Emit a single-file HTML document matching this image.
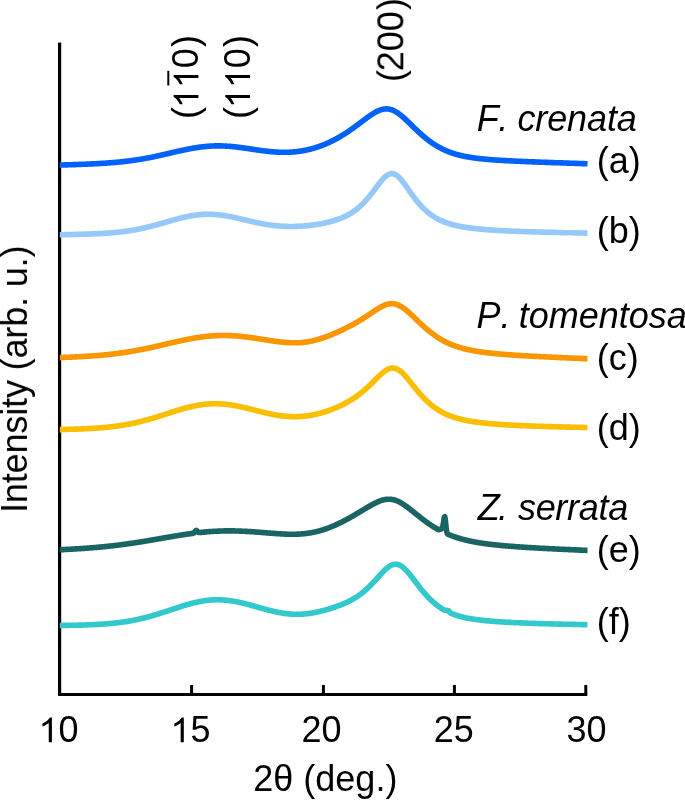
<!DOCTYPE html>
<html><head><meta charset="utf-8"><style>
html,body{margin:0;padding:0;background:#fff;}
svg{display:block;font-family:"Liberation Sans",sans-serif;}
</style></head><body>
<svg width="685" height="800" viewBox="0 0 685 800">
<rect width="685" height="800" fill="#fff"/>
<g fill="#000">
<rect x="58" y="42.6" width="3.2" height="653.4"/>
<rect x="58" y="693" width="529.3" height="3"/>
<rect x="190.1" y="685" width="3" height="9"/>
<rect x="321.9" y="685" width="3" height="9"/>
<rect x="452.9" y="685" width="3" height="9"/>
<rect x="584.3" y="685" width="3" height="9"/>
</g>
<g fill="none" stroke-width="5.6" stroke-linejoin="round" stroke-linecap="butt">
<path d="M59.8,165.1 L60.3,165.1 L60.8,165.1 L61.3,165.0 L61.8,165.0 L62.3,165.0 L62.8,165.0 L63.3,165.0 L63.8,165.0 L64.3,164.9 L64.8,164.9 L65.3,164.9 L65.8,164.9 L66.3,164.9 L66.8,164.9 L67.3,164.9 L67.8,164.8 L68.3,164.8 L68.8,164.8 L69.3,164.8 L69.8,164.8 L70.3,164.7 L70.8,164.7 L71.3,164.7 L71.8,164.7 L72.3,164.7 L72.8,164.7 L73.3,164.6 L73.8,164.6 L74.3,164.6 L74.8,164.6 L75.3,164.6 L75.8,164.6 L76.3,164.5 L76.8,164.5 L77.3,164.5 L77.8,164.5 L78.3,164.5 L78.8,164.4 L79.3,164.4 L79.8,164.4 L80.3,164.4 L80.8,164.4 L81.3,164.4 L81.8,164.3 L82.3,164.3 L82.8,164.3 L83.3,164.3 L83.8,164.3 L84.3,164.2 L84.8,164.2 L85.3,164.2 L85.8,164.2 L86.3,164.2 L86.8,164.1 L87.3,164.1 L87.8,164.1 L88.3,164.1 L88.8,164.0 L89.3,164.0 L89.8,164.0 L90.3,164.0 L90.8,164.0 L91.3,163.9 L91.8,163.9 L92.3,163.9 L92.8,163.9 L93.3,163.8 L93.8,163.8 L94.3,163.8 L94.8,163.8 L95.3,163.7 L95.8,163.7 L96.3,163.7 L96.8,163.7 L97.3,163.6 L97.8,163.6 L98.3,163.6 L98.8,163.5 L99.3,163.5 L99.8,163.5 L100.3,163.5 L100.8,163.4 L101.3,163.4 L101.8,163.4 L102.3,163.3 L102.8,163.3 L103.3,163.3 L103.8,163.3 L104.3,163.2 L104.8,163.2 L105.3,163.2 L105.8,163.1 L106.3,163.1 L106.8,163.1 L107.3,163.0 L107.8,163.0 L108.3,162.9 L108.8,162.9 L109.3,162.9 L109.8,162.8 L110.3,162.8 L110.8,162.8 L111.3,162.7 L111.8,162.7 L112.3,162.6 L112.8,162.6 L113.3,162.6 L113.8,162.5 L114.3,162.5 L114.8,162.4 L115.3,162.4 L115.8,162.4 L116.3,162.3 L116.8,162.3 L117.3,162.2 L117.8,162.2 L118.3,162.1 L118.8,162.1 L119.3,162.0 L119.8,162.0 L120.3,161.9 L120.8,161.9 L121.3,161.8 L121.8,161.8 L122.3,161.7 L122.8,161.7 L123.3,161.6 L123.8,161.6 L124.3,161.5 L124.8,161.4 L125.3,161.4 L125.8,161.3 L126.3,161.3 L126.8,161.2 L127.3,161.1 L127.8,161.1 L128.3,161.0 L128.8,161.0 L129.3,160.9 L129.8,160.8 L130.3,160.8 L130.8,160.7 L131.3,160.6 L131.8,160.6 L132.3,160.5 L132.8,160.4 L133.3,160.4 L133.8,160.3 L134.3,160.2 L134.8,160.1 L135.3,160.1 L135.8,160.0 L136.3,159.9 L136.8,159.8 L137.3,159.8 L137.8,159.7 L138.3,159.6 L138.8,159.5 L139.3,159.5 L139.8,159.4 L140.3,159.3 L140.8,159.2 L141.3,159.1 L141.8,159.0 L142.3,159.0 L142.8,158.9 L143.3,158.8 L143.8,158.7 L144.3,158.6 L144.8,158.5 L145.3,158.4 L145.8,158.3 L146.3,158.2 L146.8,158.1 L147.3,158.0 L147.8,158.0 L148.3,157.9 L148.8,157.8 L149.3,157.7 L149.8,157.6 L150.3,157.5 L150.8,157.4 L151.3,157.3 L151.8,157.2 L152.3,157.1 L152.8,157.0 L153.3,156.9 L153.8,156.8 L154.3,156.7 L154.8,156.5 L155.3,156.4 L155.8,156.3 L156.3,156.2 L156.8,156.1 L157.3,156.0 L157.8,155.9 L158.3,155.8 L158.8,155.7 L159.3,155.6 L159.8,155.5 L160.3,155.4 L160.8,155.2 L161.3,155.1 L161.8,155.0 L162.3,154.9 L162.8,154.8 L163.3,154.7 L163.8,154.6 L164.3,154.4 L164.8,154.3 L165.3,154.2 L165.8,154.1 L166.3,154.0 L166.8,153.9 L167.3,153.8 L167.8,153.6 L168.3,153.5 L168.8,153.4 L169.3,153.3 L169.8,153.2 L170.3,153.1 L170.8,152.9 L171.3,152.8 L171.8,152.7 L172.3,152.6 L172.8,152.5 L173.3,152.4 L173.8,152.2 L174.3,152.1 L174.8,152.0 L175.3,151.9 L175.8,151.8 L176.3,151.7 L176.8,151.6 L177.3,151.4 L177.8,151.3 L178.3,151.2 L178.8,151.1 L179.3,151.0 L179.8,150.9 L180.3,150.8 L180.8,150.6 L181.3,150.5 L181.8,150.4 L182.3,150.3 L182.8,150.2 L183.3,150.1 L183.8,150.0 L184.3,149.9 L184.8,149.8 L185.3,149.7 L185.8,149.6 L186.3,149.5 L186.8,149.4 L187.3,149.3 L187.8,149.2 L188.3,149.1 L188.8,149.0 L189.3,148.9 L189.8,148.8 L190.3,148.7 L190.8,148.6 L191.3,148.5 L191.8,148.4 L192.3,148.3 L192.8,148.2 L193.3,148.1 L193.8,148.1 L194.3,148.0 L194.8,147.9 L195.3,147.8 L195.8,147.7 L196.3,147.7 L196.8,147.6 L197.3,147.5 L197.8,147.4 L198.3,147.4 L198.8,147.3 L199.3,147.2 L199.8,147.1 L200.3,147.1 L200.8,147.0 L201.3,147.0 L201.8,146.9 L202.3,146.8 L202.8,146.8 L203.3,146.7 L203.8,146.7 L204.3,146.6 L204.8,146.6 L205.3,146.5 L205.8,146.5 L206.3,146.4 L206.8,146.4 L207.3,146.3 L207.8,146.3 L208.3,146.3 L208.8,146.2 L209.3,146.2 L209.8,146.1 L210.3,146.1 L210.8,146.1 L211.3,146.1 L211.8,146.0 L212.3,146.0 L212.8,146.0 L213.3,146.0 L213.8,146.0 L214.3,145.9 L214.8,145.9 L215.3,145.9 L215.8,145.9 L216.3,145.9 L216.8,145.9 L217.3,145.9 L217.8,145.9 L218.3,145.9 L218.8,145.9 L219.3,145.9 L219.8,145.9 L220.3,145.9 L220.8,145.9 L221.3,145.9 L221.8,145.9 L222.3,145.9 L222.8,146.0 L223.3,146.0 L223.8,146.0 L224.3,146.0 L224.8,146.0 L225.3,146.1 L225.8,146.1 L226.3,146.1 L226.8,146.2 L227.3,146.2 L227.8,146.2 L228.3,146.3 L228.8,146.3 L229.3,146.3 L229.8,146.4 L230.3,146.4 L230.8,146.4 L231.3,146.5 L231.8,146.5 L232.3,146.6 L232.8,146.6 L233.3,146.7 L233.8,146.7 L234.3,146.8 L234.8,146.8 L235.3,146.9 L235.8,146.9 L236.3,147.0 L236.8,147.1 L237.3,147.1 L237.8,147.2 L238.3,147.2 L238.8,147.3 L239.3,147.4 L239.8,147.4 L240.3,147.5 L240.8,147.6 L241.3,147.6 L241.8,147.7 L242.3,147.8 L242.8,147.8 L243.3,147.9 L243.8,148.0 L244.3,148.0 L244.8,148.1 L245.3,148.2 L245.8,148.3 L246.3,148.3 L246.8,148.4 L247.3,148.5 L247.8,148.5 L248.3,148.6 L248.8,148.7 L249.3,148.8 L249.8,148.8 L250.3,148.9 L250.8,149.0 L251.3,149.1 L251.8,149.1 L252.3,149.2 L252.8,149.3 L253.3,149.4 L253.8,149.4 L254.3,149.5 L254.8,149.6 L255.3,149.7 L255.8,149.7 L256.3,149.8 L256.8,149.9 L257.3,150.0 L257.8,150.0 L258.3,150.1 L258.8,150.2 L259.3,150.2 L259.8,150.3 L260.3,150.4 L260.8,150.4 L261.3,150.5 L261.8,150.6 L262.3,150.7 L262.8,150.7 L263.3,150.8 L263.8,150.8 L264.3,150.9 L264.8,151.0 L265.3,151.0 L265.8,151.1 L266.3,151.1 L266.8,151.2 L267.3,151.3 L267.8,151.3 L268.3,151.4 L268.8,151.4 L269.3,151.5 L269.8,151.5 L270.3,151.6 L270.8,151.6 L271.3,151.7 L271.8,151.7 L272.3,151.8 L272.8,151.8 L273.3,151.8 L273.8,151.9 L274.3,151.9 L274.8,152.0 L275.3,152.0 L275.8,152.0 L276.3,152.1 L276.8,152.1 L277.3,152.1 L277.8,152.1 L278.3,152.2 L278.8,152.2 L279.3,152.2 L279.8,152.2 L280.3,152.2 L280.8,152.3 L281.3,152.3 L281.8,152.3 L282.3,152.3 L282.8,152.3 L283.3,152.3 L283.8,152.3 L284.3,152.3 L284.8,152.3 L285.3,152.3 L285.8,152.3 L286.3,152.3 L286.8,152.3 L287.3,152.3 L287.8,152.2 L288.3,152.2 L288.8,152.2 L289.3,152.2 L289.8,152.2 L290.3,152.1 L290.8,152.1 L291.3,152.1 L291.8,152.0 L292.3,152.0 L292.8,152.0 L293.3,151.9 L293.8,151.9 L294.3,151.9 L294.8,151.8 L295.3,151.8 L295.8,151.7 L296.3,151.7 L296.8,151.6 L297.3,151.5 L297.8,151.5 L298.3,151.4 L298.8,151.3 L299.3,151.3 L299.8,151.2 L300.3,151.1 L300.8,151.1 L301.3,151.0 L301.8,150.9 L302.3,150.8 L302.8,150.7 L303.3,150.6 L303.8,150.5 L304.3,150.5 L304.8,150.4 L305.3,150.3 L305.8,150.2 L306.3,150.1 L306.8,149.9 L307.3,149.8 L307.8,149.7 L308.3,149.6 L308.8,149.5 L309.3,149.4 L309.8,149.3 L310.3,149.1 L310.8,149.0 L311.3,148.9 L311.8,148.7 L312.3,148.6 L312.8,148.5 L313.3,148.3 L313.8,148.2 L314.3,148.0 L314.8,147.9 L315.3,147.7 L315.8,147.6 L316.3,147.4 L316.8,147.3 L317.3,147.1 L317.8,146.9 L318.3,146.8 L318.8,146.6 L319.3,146.4 L319.8,146.2 L320.3,146.1 L320.8,145.9 L321.3,145.7 L321.8,145.5 L322.3,145.3 L322.8,145.1 L323.3,144.9 L323.8,144.7 L324.3,144.5 L324.8,144.3 L325.3,144.1 L325.8,143.9 L326.3,143.7 L326.8,143.5 L327.3,143.2 L327.8,143.0 L328.3,142.8 L328.8,142.6 L329.3,142.3 L329.8,142.1 L330.3,141.9 L330.8,141.6 L331.3,141.4 L331.8,141.1 L332.3,140.9 L332.8,140.6 L333.3,140.4 L333.8,140.1 L334.3,139.9 L334.8,139.6 L335.3,139.4 L335.8,139.1 L336.3,138.8 L336.8,138.5 L337.3,138.3 L337.8,138.0 L338.3,137.7 L338.8,137.4 L339.3,137.1 L339.8,136.8 L340.3,136.5 L340.8,136.2 L341.3,135.9 L341.8,135.6 L342.3,135.3 L342.8,135.0 L343.3,134.7 L343.8,134.4 L344.3,134.1 L344.8,133.8 L345.3,133.4 L345.8,133.1 L346.3,132.8 L346.8,132.5 L347.3,132.1 L347.8,131.8 L348.3,131.5 L348.8,131.1 L349.3,130.8 L349.8,130.4 L350.3,130.1 L350.8,129.7 L351.3,129.4 L351.8,129.0 L352.3,128.7 L352.8,128.3 L353.3,128.0 L353.8,127.6 L354.3,127.2 L354.8,126.9 L355.3,126.5 L355.8,126.1 L356.3,125.8 L356.8,125.4 L357.3,125.0 L357.8,124.7 L358.3,124.3 L358.8,123.9 L359.3,123.5 L359.8,123.2 L360.3,122.8 L360.8,122.4 L361.3,122.0 L361.8,121.6 L362.3,121.3 L362.8,120.9 L363.3,120.5 L363.8,120.1 L364.3,119.8 L364.8,119.4 L365.3,119.0 L365.8,118.6 L366.3,118.3 L366.8,117.9 L367.3,117.5 L367.8,117.2 L368.3,116.8 L368.8,116.5 L369.3,116.1 L369.8,115.8 L370.3,115.4 L370.8,115.1 L371.3,114.7 L371.8,114.4 L372.3,114.1 L372.8,113.8 L373.3,113.5 L373.8,113.2 L374.3,112.9 L374.8,112.6 L375.3,112.3 L375.8,112.0 L376.3,111.7 L376.8,111.5 L377.3,111.2 L377.8,111.0 L378.3,110.8 L378.8,110.6 L379.3,110.4 L379.8,110.2 L380.3,110.0 L380.8,109.8 L381.3,109.7 L381.8,109.5 L382.3,109.4 L382.8,109.3 L383.3,109.2 L383.8,109.1 L384.3,109.0 L384.8,109.0 L385.3,108.9 L385.8,108.9 L386.3,108.9 L386.8,108.9 L387.3,108.9 L387.8,109.0 L388.3,109.0 L388.8,109.1 L389.3,109.2 L389.8,109.3 L390.3,109.4 L390.8,109.5 L391.3,109.7 L391.8,109.9 L392.3,110.0 L392.8,110.2 L393.3,110.5 L393.8,110.7 L394.3,110.9 L394.8,111.2 L395.3,111.5 L395.8,111.8 L396.3,112.1 L396.8,112.4 L397.3,112.7 L397.8,113.0 L398.3,113.4 L398.8,113.7 L399.3,114.1 L399.8,114.5 L400.3,114.9 L400.8,115.3 L401.3,115.7 L401.8,116.1 L402.3,116.5 L402.8,117.0 L403.3,117.4 L403.8,117.8 L404.3,118.3 L404.8,118.7 L405.3,119.2 L405.8,119.7 L406.3,120.1 L406.8,120.6 L407.3,121.1 L407.8,121.6 L408.3,122.0 L408.8,122.5 L409.3,123.0 L409.8,123.5 L410.3,124.0 L410.8,124.5 L411.3,125.0 L411.8,125.5 L412.3,125.9 L412.8,126.4 L413.3,126.9 L413.8,127.4 L414.3,127.9 L414.8,128.4 L415.3,128.9 L415.8,129.3 L416.3,129.8 L416.8,130.3 L417.3,130.8 L417.8,131.2 L418.3,131.7 L418.8,132.2 L419.3,132.6 L419.8,133.1 L420.3,133.5 L420.8,134.0 L421.3,134.4 L421.8,134.9 L422.3,135.3 L422.8,135.7 L423.3,136.2 L423.8,136.6 L424.3,137.0 L424.8,137.4 L425.3,137.8 L425.8,138.2 L426.3,138.6 L426.8,139.0 L427.3,139.4 L427.8,139.8 L428.3,140.2 L428.8,140.6 L429.3,141.0 L429.8,141.3 L430.3,141.7 L430.8,142.1 L431.3,142.4 L431.8,142.8 L432.3,143.1 L432.8,143.4 L433.3,143.8 L433.8,144.1 L434.3,144.4 L434.8,144.7 L435.3,145.1 L435.8,145.4 L436.3,145.7 L436.8,146.0 L437.3,146.3 L437.8,146.6 L438.3,146.9 L438.8,147.1 L439.3,147.4 L439.8,147.7 L440.3,147.9 L440.8,148.2 L441.3,148.5 L441.8,148.7 L442.3,149.0 L442.8,149.2 L443.3,149.5 L443.8,149.7 L444.3,149.9 L444.8,150.2 L445.3,150.4 L445.8,150.6 L446.3,150.8 L446.8,151.0 L447.3,151.2 L447.8,151.4 L448.3,151.6 L448.8,151.8 L449.3,152.0 L449.8,152.2 L450.3,152.4 L450.8,152.6 L451.3,152.7 L451.8,152.9 L452.3,153.1 L452.8,153.3 L453.3,153.4 L453.8,153.6 L454.3,153.7 L454.8,153.9 L455.3,154.0 L455.8,154.2 L456.3,154.3 L456.8,154.5 L457.3,154.6 L457.8,154.7 L458.3,154.9 L458.8,155.0 L459.3,155.1 L459.8,155.3 L460.3,155.4 L460.8,155.5 L461.3,155.6 L461.8,155.7 L462.3,155.8 L462.8,156.0 L463.3,156.1 L463.8,156.2 L464.3,156.3 L464.8,156.4 L465.3,156.5 L465.8,156.6 L466.3,156.7 L466.8,156.8 L467.3,156.9 L467.8,156.9 L468.3,157.0 L468.8,157.1 L469.3,157.2 L469.8,157.3 L470.3,157.4 L470.8,157.4 L471.3,157.5 L471.8,157.6 L472.3,157.7 L472.8,157.7 L473.3,157.8 L473.8,157.9 L474.3,158.0 L474.8,158.0 L475.3,158.1 L475.8,158.2 L476.3,158.2 L476.8,158.3 L477.3,158.3 L477.8,158.4 L478.3,158.5 L478.8,158.5 L479.3,158.6 L479.8,158.6 L480.3,158.7 L480.8,158.7 L481.3,158.8 L481.8,158.8 L482.3,158.9 L482.8,158.9 L483.3,159.0 L483.8,159.0 L484.3,159.1 L484.8,159.1 L485.3,159.2 L485.8,159.2 L486.3,159.3 L486.8,159.3 L487.3,159.4 L487.8,159.4 L488.3,159.5 L488.8,159.5 L489.3,159.5 L489.8,159.6 L490.3,159.6 L490.8,159.7 L491.3,159.7 L491.8,159.7 L492.3,159.8 L492.8,159.8 L493.3,159.8 L493.8,159.9 L494.3,159.9 L494.8,160.0 L495.3,160.0 L495.8,160.0 L496.3,160.1 L496.8,160.1 L497.3,160.1 L497.8,160.2 L498.3,160.2 L498.8,160.2 L499.3,160.3 L499.8,160.3 L500.3,160.3 L500.8,160.3 L501.3,160.4 L501.8,160.4 L502.3,160.4 L502.8,160.5 L503.3,160.5 L503.8,160.5 L504.3,160.6 L504.8,160.6 L505.3,160.6 L505.8,160.6 L506.3,160.7 L506.8,160.7 L507.3,160.7 L507.8,160.7 L508.3,160.8 L508.8,160.8 L509.3,160.8 L509.8,160.8 L510.3,160.9 L510.8,160.9 L511.3,160.9 L511.8,160.9 L512.3,161.0 L512.8,161.0 L513.3,161.0 L513.8,161.0 L514.3,161.1 L514.8,161.1 L515.3,161.1 L515.8,161.1 L516.3,161.2 L516.8,161.2 L517.3,161.2 L517.8,161.2 L518.3,161.3 L518.8,161.3 L519.3,161.3 L519.8,161.3 L520.3,161.3 L520.8,161.4 L521.3,161.4 L521.8,161.4 L522.3,161.4 L522.8,161.5 L523.3,161.5 L523.8,161.5 L524.3,161.5 L524.8,161.5 L525.3,161.6 L525.8,161.6 L526.3,161.6 L526.8,161.6 L527.3,161.6 L527.8,161.7 L528.3,161.7 L528.8,161.7 L529.3,161.7 L529.8,161.7 L530.3,161.8 L530.8,161.8 L531.3,161.8 L531.8,161.8 L532.3,161.8 L532.8,161.9 L533.3,161.9 L533.8,161.9 L534.3,161.9 L534.8,161.9 L535.3,162.0 L535.8,162.0 L536.3,162.0 L536.8,162.0 L537.3,162.0 L537.8,162.1 L538.3,162.1 L538.8,162.1 L539.3,162.1 L539.8,162.1 L540.3,162.2 L540.8,162.2 L541.3,162.2 L541.8,162.2 L542.3,162.2 L542.8,162.2 L543.3,162.3 L543.8,162.3 L544.3,162.3 L544.8,162.3 L545.3,162.3 L545.8,162.4 L546.3,162.4 L546.8,162.4 L547.3,162.4 L547.8,162.4 L548.3,162.4 L548.8,162.5 L549.3,162.5 L549.8,162.5 L550.3,162.5 L550.8,162.5 L551.3,162.6 L551.8,162.6 L552.3,162.6 L552.8,162.6 L553.3,162.6 L553.8,162.6 L554.3,162.7 L554.8,162.7 L555.3,162.7 L555.8,162.7 L556.3,162.7 L556.8,162.7 L557.3,162.8 L557.8,162.8 L558.3,162.8 L558.8,162.8 L559.3,162.8 L559.8,162.8 L560.3,162.9 L560.8,162.9 L561.3,162.9 L561.8,162.9 L562.3,162.9 L562.8,162.9 L563.3,163.0 L563.8,163.0 L564.3,163.0 L564.8,163.0 L565.3,163.0 L565.8,163.0 L566.3,163.1 L566.8,163.1 L567.3,163.1 L567.8,163.1 L568.3,163.1 L568.8,163.1 L569.3,163.2 L569.8,163.2 L570.3,163.2 L570.8,163.2 L571.3,163.2 L571.8,163.2 L572.3,163.3 L572.8,163.3 L573.3,163.3 L573.8,163.3 L574.3,163.3 L574.8,163.3 L575.3,163.4 L575.8,163.4 L576.3,163.4 L576.8,163.4 L577.3,163.4 L577.8,163.4 L578.3,163.5 L578.8,163.5 L579.3,163.5 L579.8,163.5 L580.3,163.5 L580.8,163.5 L581.3,163.6 L581.8,163.6 L582.3,163.6 L582.8,163.6 L583.3,163.6 L583.8,163.6 L584.3,163.7 L584.8,163.7 L585.3,163.7 L585.8,163.7 L586.3,163.7 L586.8,163.7 L587.3,163.8 L587.5,163.8" stroke="#0062fa" />
<path d="M59.8,234.7 L60.3,234.7 L60.8,234.7 L61.3,234.7 L61.8,234.7 L62.3,234.7 L62.8,234.7 L63.3,234.7 L63.8,234.7 L64.3,234.7 L64.8,234.7 L65.3,234.6 L65.8,234.6 L66.3,234.6 L66.8,234.6 L67.3,234.6 L67.8,234.6 L68.3,234.6 L68.8,234.6 L69.3,234.6 L69.8,234.5 L70.3,234.5 L70.8,234.5 L71.3,234.5 L71.8,234.5 L72.3,234.5 L72.8,234.5 L73.3,234.5 L73.8,234.5 L74.3,234.4 L74.8,234.4 L75.3,234.4 L75.8,234.4 L76.3,234.4 L76.8,234.4 L77.3,234.4 L77.8,234.4 L78.3,234.3 L78.8,234.3 L79.3,234.3 L79.8,234.3 L80.3,234.3 L80.8,234.3 L81.3,234.3 L81.8,234.3 L82.3,234.2 L82.8,234.2 L83.3,234.2 L83.8,234.2 L84.3,234.2 L84.8,234.2 L85.3,234.1 L85.8,234.1 L86.3,234.1 L86.8,234.1 L87.3,234.1 L87.8,234.1 L88.3,234.1 L88.8,234.0 L89.3,234.0 L89.8,234.0 L90.3,234.0 L90.8,234.0 L91.3,233.9 L91.8,233.9 L92.3,233.9 L92.8,233.9 L93.3,233.9 L93.8,233.8 L94.3,233.8 L94.8,233.8 L95.3,233.8 L95.8,233.8 L96.3,233.7 L96.8,233.7 L97.3,233.7 L97.8,233.7 L98.3,233.6 L98.8,233.6 L99.3,233.6 L99.8,233.6 L100.3,233.5 L100.8,233.5 L101.3,233.5 L101.8,233.5 L102.3,233.4 L102.8,233.4 L103.3,233.4 L103.8,233.3 L104.3,233.3 L104.8,233.3 L105.3,233.2 L105.8,233.2 L106.3,233.2 L106.8,233.1 L107.3,233.1 L107.8,233.1 L108.3,233.0 L108.8,233.0 L109.3,233.0 L109.8,232.9 L110.3,232.9 L110.8,232.9 L111.3,232.8 L111.8,232.8 L112.3,232.7 L112.8,232.7 L113.3,232.6 L113.8,232.6 L114.3,232.6 L114.8,232.5 L115.3,232.5 L115.8,232.4 L116.3,232.4 L116.8,232.3 L117.3,232.3 L117.8,232.2 L118.3,232.2 L118.8,232.1 L119.3,232.1 L119.8,232.0 L120.3,231.9 L120.8,231.9 L121.3,231.8 L121.8,231.8 L122.3,231.7 L122.8,231.7 L123.3,231.6 L123.8,231.5 L124.3,231.5 L124.8,231.4 L125.3,231.3 L125.8,231.3 L126.3,231.2 L126.8,231.1 L127.3,231.1 L127.8,231.0 L128.3,230.9 L128.8,230.8 L129.3,230.8 L129.8,230.7 L130.3,230.6 L130.8,230.5 L131.3,230.4 L131.8,230.4 L132.3,230.3 L132.8,230.2 L133.3,230.1 L133.8,230.0 L134.3,229.9 L134.8,229.8 L135.3,229.8 L135.8,229.7 L136.3,229.6 L136.8,229.5 L137.3,229.4 L137.8,229.3 L138.3,229.2 L138.8,229.1 L139.3,229.0 L139.8,228.9 L140.3,228.8 L140.8,228.7 L141.3,228.6 L141.8,228.5 L142.3,228.4 L142.8,228.2 L143.3,228.1 L143.8,228.0 L144.3,227.9 L144.8,227.8 L145.3,227.7 L145.8,227.6 L146.3,227.5 L146.8,227.3 L147.3,227.2 L147.8,227.1 L148.3,227.0 L148.8,226.9 L149.3,226.7 L149.8,226.6 L150.3,226.5 L150.8,226.4 L151.3,226.2 L151.8,226.1 L152.3,226.0 L152.8,225.8 L153.3,225.7 L153.8,225.6 L154.3,225.4 L154.8,225.3 L155.3,225.2 L155.8,225.0 L156.3,224.9 L156.8,224.8 L157.3,224.6 L157.8,224.5 L158.3,224.3 L158.8,224.2 L159.3,224.1 L159.8,223.9 L160.3,223.8 L160.8,223.6 L161.3,223.5 L161.8,223.4 L162.3,223.2 L162.8,223.1 L163.3,222.9 L163.8,222.8 L164.3,222.6 L164.8,222.5 L165.3,222.4 L165.8,222.2 L166.3,222.1 L166.8,221.9 L167.3,221.8 L167.8,221.6 L168.3,221.5 L168.8,221.4 L169.3,221.2 L169.8,221.1 L170.3,220.9 L170.8,220.8 L171.3,220.6 L171.8,220.5 L172.3,220.4 L172.8,220.2 L173.3,220.1 L173.8,219.9 L174.3,219.8 L174.8,219.7 L175.3,219.5 L175.8,219.4 L176.3,219.3 L176.8,219.1 L177.3,219.0 L177.8,218.9 L178.3,218.7 L178.8,218.6 L179.3,218.5 L179.8,218.3 L180.3,218.2 L180.8,218.1 L181.3,218.0 L181.8,217.8 L182.3,217.7 L182.8,217.6 L183.3,217.5 L183.8,217.4 L184.3,217.2 L184.8,217.1 L185.3,217.0 L185.8,216.9 L186.3,216.8 L186.8,216.7 L187.3,216.6 L187.8,216.5 L188.3,216.4 L188.8,216.3 L189.3,216.2 L189.8,216.1 L190.3,216.0 L190.8,215.9 L191.3,215.8 L191.8,215.7 L192.3,215.6 L192.8,215.6 L193.3,215.5 L193.8,215.4 L194.3,215.3 L194.8,215.3 L195.3,215.2 L195.8,215.1 L196.3,215.1 L196.8,215.0 L197.3,214.9 L197.8,214.9 L198.3,214.8 L198.8,214.8 L199.3,214.7 L199.8,214.7 L200.3,214.6 L200.8,214.6 L201.3,214.5 L201.8,214.5 L202.3,214.5 L202.8,214.4 L203.3,214.4 L203.8,214.4 L204.3,214.4 L204.8,214.3 L205.3,214.3 L205.8,214.3 L206.3,214.3 L206.8,214.3 L207.3,214.3 L207.8,214.3 L208.3,214.3 L208.8,214.3 L209.3,214.3 L209.8,214.3 L210.3,214.3 L210.8,214.3 L211.3,214.3 L211.8,214.3 L212.3,214.4 L212.8,214.4 L213.3,214.4 L213.8,214.4 L214.3,214.5 L214.8,214.5 L215.3,214.5 L215.8,214.6 L216.3,214.6 L216.8,214.7 L217.3,214.7 L217.8,214.8 L218.3,214.8 L218.8,214.9 L219.3,214.9 L219.8,215.0 L220.3,215.0 L220.8,215.1 L221.3,215.2 L221.8,215.2 L222.3,215.3 L222.8,215.4 L223.3,215.4 L223.8,215.5 L224.3,215.6 L224.8,215.7 L225.3,215.7 L225.8,215.8 L226.3,215.9 L226.8,216.0 L227.3,216.1 L227.8,216.2 L228.3,216.3 L228.8,216.4 L229.3,216.5 L229.8,216.5 L230.3,216.6 L230.8,216.7 L231.3,216.8 L231.8,216.9 L232.3,217.0 L232.8,217.2 L233.3,217.3 L233.8,217.4 L234.3,217.5 L234.8,217.6 L235.3,217.7 L235.8,217.8 L236.3,217.9 L236.8,218.0 L237.3,218.1 L237.8,218.2 L238.3,218.4 L238.8,218.5 L239.3,218.6 L239.8,218.7 L240.3,218.8 L240.8,218.9 L241.3,219.1 L241.8,219.2 L242.3,219.3 L242.8,219.4 L243.3,219.5 L243.8,219.7 L244.3,219.8 L244.8,219.9 L245.3,220.0 L245.8,220.1 L246.3,220.2 L246.8,220.4 L247.3,220.5 L247.8,220.6 L248.3,220.7 L248.8,220.8 L249.3,220.9 L249.8,221.1 L250.3,221.2 L250.8,221.3 L251.3,221.4 L251.8,221.5 L252.3,221.6 L252.8,221.7 L253.3,221.9 L253.8,222.0 L254.3,222.1 L254.8,222.2 L255.3,222.3 L255.8,222.4 L256.3,222.5 L256.8,222.6 L257.3,222.7 L257.8,222.8 L258.3,222.9 L258.8,223.0 L259.3,223.1 L259.8,223.2 L260.3,223.3 L260.8,223.4 L261.3,223.5 L261.8,223.6 L262.3,223.7 L262.8,223.8 L263.3,223.9 L263.8,224.0 L264.3,224.1 L264.8,224.2 L265.3,224.3 L265.8,224.3 L266.3,224.4 L266.8,224.5 L267.3,224.6 L267.8,224.7 L268.3,224.7 L268.8,224.8 L269.3,224.9 L269.8,225.0 L270.3,225.0 L270.8,225.1 L271.3,225.2 L271.8,225.2 L272.3,225.3 L272.8,225.4 L273.3,225.4 L273.8,225.5 L274.3,225.5 L274.8,225.6 L275.3,225.6 L275.8,225.7 L276.3,225.8 L276.8,225.8 L277.3,225.8 L277.8,225.9 L278.3,225.9 L278.8,226.0 L279.3,226.0 L279.8,226.1 L280.3,226.1 L280.8,226.1 L281.3,226.2 L281.8,226.2 L282.3,226.2 L282.8,226.3 L283.3,226.3 L283.8,226.3 L284.3,226.3 L284.8,226.4 L285.3,226.4 L285.8,226.4 L286.3,226.4 L286.8,226.4 L287.3,226.4 L287.8,226.4 L288.3,226.5 L288.8,226.5 L289.3,226.5 L289.8,226.5 L290.3,226.5 L290.8,226.5 L291.3,226.5 L291.8,226.5 L292.3,226.5 L292.8,226.5 L293.3,226.5 L293.8,226.5 L294.3,226.5 L294.8,226.4 L295.3,226.4 L295.8,226.4 L296.3,226.4 L296.8,226.4 L297.3,226.4 L297.8,226.3 L298.3,226.3 L298.8,226.3 L299.3,226.3 L299.8,226.2 L300.3,226.2 L300.8,226.2 L301.3,226.2 L301.8,226.1 L302.3,226.1 L302.8,226.0 L303.3,226.0 L303.8,226.0 L304.3,225.9 L304.8,225.9 L305.3,225.8 L305.8,225.8 L306.3,225.8 L306.8,225.7 L307.3,225.7 L307.8,225.6 L308.3,225.6 L308.8,225.5 L309.3,225.4 L309.8,225.4 L310.3,225.3 L310.8,225.3 L311.3,225.2 L311.8,225.1 L312.3,225.1 L312.8,225.0 L313.3,225.0 L313.8,224.9 L314.3,224.8 L314.8,224.7 L315.3,224.7 L315.8,224.6 L316.3,224.5 L316.8,224.4 L317.3,224.4 L317.8,224.3 L318.3,224.2 L318.8,224.1 L319.3,224.0 L319.8,223.9 L320.3,223.9 L320.8,223.8 L321.3,223.7 L321.8,223.6 L322.3,223.5 L322.8,223.4 L323.3,223.3 L323.8,223.2 L324.3,223.1 L324.8,223.0 L325.3,222.9 L325.8,222.8 L326.3,222.6 L326.8,222.5 L327.3,222.4 L327.8,222.3 L328.3,222.2 L328.8,222.1 L329.3,221.9 L329.8,221.8 L330.3,221.7 L330.8,221.5 L331.3,221.4 L331.8,221.3 L332.3,221.1 L332.8,221.0 L333.3,220.8 L333.8,220.7 L334.3,220.5 L334.8,220.4 L335.3,220.2 L335.8,220.1 L336.3,219.9 L336.8,219.7 L337.3,219.6 L337.8,219.4 L338.3,219.2 L338.8,219.0 L339.3,218.9 L339.8,218.7 L340.3,218.5 L340.8,218.3 L341.3,218.1 L341.8,217.9 L342.3,217.7 L342.8,217.4 L343.3,217.2 L343.8,217.0 L344.3,216.8 L344.8,216.5 L345.3,216.3 L345.8,216.0 L346.3,215.8 L346.8,215.5 L347.3,215.3 L347.8,215.0 L348.3,214.7 L348.8,214.5 L349.3,214.2 L349.8,213.9 L350.3,213.6 L350.8,213.3 L351.3,213.0 L351.8,212.7 L352.3,212.3 L352.8,212.0 L353.3,211.7 L353.8,211.3 L354.3,211.0 L354.8,210.6 L355.3,210.2 L355.8,209.8 L356.3,209.5 L356.8,209.1 L357.3,208.7 L357.8,208.3 L358.3,207.8 L358.8,207.4 L359.3,207.0 L359.8,206.5 L360.3,206.1 L360.8,205.6 L361.3,205.2 L361.8,204.7 L362.3,204.2 L362.8,203.7 L363.3,203.2 L363.8,202.7 L364.3,202.2 L364.8,201.6 L365.3,201.1 L365.8,200.5 L366.3,200.0 L366.8,199.4 L367.3,198.8 L367.8,198.2 L368.3,197.7 L368.8,197.1 L369.3,196.4 L369.8,195.8 L370.3,195.2 L370.8,194.6 L371.3,193.9 L371.8,193.3 L372.3,192.7 L372.8,192.0 L373.3,191.3 L373.8,190.7 L374.3,190.0 L374.8,189.4 L375.3,188.7 L375.8,188.0 L376.3,187.3 L376.8,186.7 L377.3,186.0 L377.8,185.4 L378.3,184.7 L378.8,184.0 L379.3,183.4 L379.8,182.8 L380.3,182.1 L380.8,181.5 L381.3,180.9 L381.8,180.3 L382.3,179.7 L382.8,179.2 L383.3,178.6 L383.8,178.1 L384.3,177.6 L384.8,177.1 L385.3,176.7 L385.8,176.2 L386.3,175.8 L386.8,175.5 L387.3,175.1 L387.8,174.8 L388.3,174.5 L388.8,174.3 L389.3,174.1 L389.8,173.9 L390.3,173.8 L390.8,173.7 L391.3,173.6 L391.8,173.6 L392.3,173.6 L392.8,173.7 L393.3,173.8 L393.8,173.9 L394.3,174.1 L394.8,174.3 L395.3,174.5 L395.8,174.8 L396.3,175.1 L396.8,175.5 L397.3,175.8 L397.8,176.2 L398.3,176.7 L398.8,177.2 L399.3,177.6 L399.8,178.2 L400.3,178.7 L400.8,179.3 L401.3,179.9 L401.8,180.5 L402.3,181.1 L402.8,181.7 L403.3,182.4 L403.8,183.0 L404.3,183.7 L404.8,184.4 L405.3,185.1 L405.8,185.8 L406.3,186.5 L406.8,187.2 L407.3,187.9 L407.8,188.6 L408.3,189.3 L408.8,190.0 L409.3,190.8 L409.8,191.5 L410.3,192.2 L410.8,192.9 L411.3,193.6 L411.8,194.3 L412.3,195.0 L412.8,195.7 L413.3,196.4 L413.8,197.0 L414.3,197.7 L414.8,198.4 L415.3,199.0 L415.8,199.6 L416.3,200.3 L416.8,200.9 L417.3,201.5 L417.8,202.1 L418.3,202.7 L418.8,203.3 L419.3,203.9 L419.8,204.5 L420.3,205.0 L420.8,205.6 L421.3,206.1 L421.8,206.7 L422.3,207.2 L422.8,207.7 L423.3,208.2 L423.8,208.7 L424.3,209.2 L424.8,209.6 L425.3,210.1 L425.8,210.6 L426.3,211.0 L426.8,211.4 L427.3,211.9 L427.8,212.3 L428.3,212.7 L428.8,213.1 L429.3,213.5 L429.8,213.9 L430.3,214.3 L430.8,214.6 L431.3,215.0 L431.8,215.3 L432.3,215.7 L432.8,216.0 L433.3,216.4 L433.8,216.7 L434.3,217.0 L434.8,217.3 L435.3,217.6 L435.8,217.9 L436.3,218.2 L436.8,218.5 L437.3,218.7 L437.8,219.0 L438.3,219.3 L438.8,219.5 L439.3,219.8 L439.8,220.0 L440.3,220.3 L440.8,220.5 L441.3,220.7 L441.8,220.9 L442.3,221.2 L442.8,221.4 L443.3,221.6 L443.8,221.8 L444.3,222.0 L444.8,222.2 L445.3,222.3 L445.8,222.5 L446.3,222.7 L446.8,222.9 L447.3,223.1 L447.8,223.2 L448.3,223.4 L448.8,223.5 L449.3,223.7 L449.8,223.9 L450.3,224.0 L450.8,224.2 L451.3,224.3 L451.8,224.4 L452.3,224.6 L452.8,224.7 L453.3,224.8 L453.8,225.0 L454.3,225.1 L454.8,225.2 L455.3,225.3 L455.8,225.4 L456.3,225.6 L456.8,225.7 L457.3,225.8 L457.8,225.9 L458.3,226.0 L458.8,226.1 L459.3,226.2 L459.8,226.3 L460.3,226.4 L460.8,226.5 L461.3,226.6 L461.8,226.7 L462.3,226.8 L462.8,226.9 L463.3,226.9 L463.8,227.0 L464.3,227.1 L464.8,227.2 L465.3,227.3 L465.8,227.3 L466.3,227.4 L466.8,227.5 L467.3,227.6 L467.8,227.6 L468.3,227.7 L468.8,227.8 L469.3,227.9 L469.8,227.9 L470.3,228.0 L470.8,228.0 L471.3,228.1 L471.8,228.2 L472.3,228.2 L472.8,228.3 L473.3,228.4 L473.8,228.4 L474.3,228.5 L474.8,228.5 L475.3,228.6 L475.8,228.6 L476.3,228.7 L476.8,228.8 L477.3,228.8 L477.8,228.9 L478.3,228.9 L478.8,229.0 L479.3,229.0 L479.8,229.1 L480.3,229.1 L480.8,229.1 L481.3,229.2 L481.8,229.2 L482.3,229.3 L482.8,229.3 L483.3,229.4 L483.8,229.4 L484.3,229.5 L484.8,229.5 L485.3,229.5 L485.8,229.6 L486.3,229.6 L486.8,229.7 L487.3,229.7 L487.8,229.7 L488.3,229.8 L488.8,229.8 L489.3,229.9 L489.8,229.9 L490.3,229.9 L490.8,230.0 L491.3,230.0 L491.8,230.0 L492.3,230.1 L492.8,230.1 L493.3,230.1 L493.8,230.2 L494.3,230.2 L494.8,230.2 L495.3,230.3 L495.8,230.3 L496.3,230.3 L496.8,230.3 L497.3,230.4 L497.8,230.4 L498.3,230.4 L498.8,230.5 L499.3,230.5 L499.8,230.5 L500.3,230.5 L500.8,230.6 L501.3,230.6 L501.8,230.6 L502.3,230.7 L502.8,230.7 L503.3,230.7 L503.8,230.7 L504.3,230.8 L504.8,230.8 L505.3,230.8 L505.8,230.8 L506.3,230.9 L506.8,230.9 L507.3,230.9 L507.8,230.9 L508.3,231.0 L508.8,231.0 L509.3,231.0 L509.8,231.0 L510.3,231.0 L510.8,231.1 L511.3,231.1 L511.8,231.1 L512.3,231.1 L512.8,231.2 L513.3,231.2 L513.8,231.2 L514.3,231.2 L514.8,231.2 L515.3,231.3 L515.8,231.3 L516.3,231.3 L516.8,231.3 L517.3,231.3 L517.8,231.4 L518.3,231.4 L518.8,231.4 L519.3,231.4 L519.8,231.4 L520.3,231.4 L520.8,231.5 L521.3,231.5 L521.8,231.5 L522.3,231.5 L522.8,231.5 L523.3,231.6 L523.8,231.6 L524.3,231.6 L524.8,231.6 L525.3,231.6 L525.8,231.6 L526.3,231.7 L526.8,231.7 L527.3,231.7 L527.8,231.7 L528.3,231.7 L528.8,231.7 L529.3,231.8 L529.8,231.8 L530.3,231.8 L530.8,231.8 L531.3,231.8 L531.8,231.8 L532.3,231.8 L532.8,231.9 L533.3,231.9 L533.8,231.9 L534.3,231.9 L534.8,231.9 L535.3,231.9 L535.8,231.9 L536.3,232.0 L536.8,232.0 L537.3,232.0 L537.8,232.0 L538.3,232.0 L538.8,232.0 L539.3,232.0 L539.8,232.1 L540.3,232.1 L540.8,232.1 L541.3,232.1 L541.8,232.1 L542.3,232.1 L542.8,232.1 L543.3,232.2 L543.8,232.2 L544.3,232.2 L544.8,232.2 L545.3,232.2 L545.8,232.2 L546.3,232.2 L546.8,232.2 L547.3,232.3 L547.8,232.3 L548.3,232.3 L548.8,232.3 L549.3,232.3 L549.8,232.3 L550.3,232.3 L550.8,232.3 L551.3,232.4 L551.8,232.4 L552.3,232.4 L552.8,232.4 L553.3,232.4 L553.8,232.4 L554.3,232.4 L554.8,232.4 L555.3,232.5 L555.8,232.5 L556.3,232.5 L556.8,232.5 L557.3,232.5 L557.8,232.5 L558.3,232.5 L558.8,232.5 L559.3,232.5 L559.8,232.6 L560.3,232.6 L560.8,232.6 L561.3,232.6 L561.8,232.6 L562.3,232.6 L562.8,232.6 L563.3,232.6 L563.8,232.6 L564.3,232.7 L564.8,232.7 L565.3,232.7 L565.8,232.7 L566.3,232.7 L566.8,232.7 L567.3,232.7 L567.8,232.7 L568.3,232.7 L568.8,232.8 L569.3,232.8 L569.8,232.8 L570.3,232.8 L570.8,232.8 L571.3,232.8 L571.8,232.8 L572.3,232.8 L572.8,232.8 L573.3,232.9 L573.8,232.9 L574.3,232.9 L574.8,232.9 L575.3,232.9 L575.8,232.9 L576.3,232.9 L576.8,232.9 L577.3,232.9 L577.8,232.9 L578.3,233.0 L578.8,233.0 L579.3,233.0 L579.8,233.0 L580.3,233.0 L580.8,233.0 L581.3,233.0 L581.8,233.0 L582.3,233.0 L582.8,233.0 L583.3,233.1 L583.8,233.1 L584.3,233.1 L584.8,233.1 L585.3,233.1 L585.8,233.1 L586.3,233.1 L586.8,233.1 L587.3,233.1 L587.5,233.1" stroke="#96c8fa" />
<path d="M59.8,357.6 L60.3,357.6 L60.8,357.5 L61.3,357.5 L61.8,357.5 L62.3,357.5 L62.8,357.5 L63.3,357.4 L63.8,357.4 L64.3,357.4 L64.8,357.4 L65.3,357.4 L65.8,357.3 L66.3,357.3 L66.8,357.3 L67.3,357.3 L67.8,357.3 L68.3,357.2 L68.8,357.2 L69.3,357.2 L69.8,357.2 L70.3,357.1 L70.8,357.1 L71.3,357.1 L71.8,357.1 L72.3,357.1 L72.8,357.0 L73.3,357.0 L73.8,357.0 L74.3,357.0 L74.8,356.9 L75.3,356.9 L75.8,356.9 L76.3,356.9 L76.8,356.8 L77.3,356.8 L77.8,356.8 L78.3,356.8 L78.8,356.7 L79.3,356.7 L79.8,356.7 L80.3,356.7 L80.8,356.6 L81.3,356.6 L81.8,356.6 L82.3,356.6 L82.8,356.5 L83.3,356.5 L83.8,356.5 L84.3,356.4 L84.8,356.4 L85.3,356.4 L85.8,356.3 L86.3,356.3 L86.8,356.3 L87.3,356.3 L87.8,356.2 L88.3,356.2 L88.8,356.2 L89.3,356.1 L89.8,356.1 L90.3,356.1 L90.8,356.0 L91.3,356.0 L91.8,356.0 L92.3,355.9 L92.8,355.9 L93.3,355.8 L93.8,355.8 L94.3,355.8 L94.8,355.7 L95.3,355.7 L95.8,355.7 L96.3,355.6 L96.8,355.6 L97.3,355.5 L97.8,355.5 L98.3,355.5 L98.8,355.4 L99.3,355.4 L99.8,355.3 L100.3,355.3 L100.8,355.2 L101.3,355.2 L101.8,355.2 L102.3,355.1 L102.8,355.1 L103.3,355.0 L103.8,355.0 L104.3,354.9 L104.8,354.9 L105.3,354.8 L105.8,354.8 L106.3,354.7 L106.8,354.7 L107.3,354.6 L107.8,354.6 L108.3,354.5 L108.8,354.5 L109.3,354.4 L109.8,354.4 L110.3,354.3 L110.8,354.2 L111.3,354.2 L111.8,354.1 L112.3,354.1 L112.8,354.0 L113.3,354.0 L113.8,353.9 L114.3,353.8 L114.8,353.8 L115.3,353.7 L115.8,353.7 L116.3,353.6 L116.8,353.5 L117.3,353.5 L117.8,353.4 L118.3,353.3 L118.8,353.3 L119.3,353.2 L119.8,353.1 L120.3,353.1 L120.8,353.0 L121.3,352.9 L121.8,352.9 L122.3,352.8 L122.8,352.7 L123.3,352.6 L123.8,352.6 L124.3,352.5 L124.8,352.4 L125.3,352.4 L125.8,352.3 L126.3,352.2 L126.8,352.1 L127.3,352.0 L127.8,352.0 L128.3,351.9 L128.8,351.8 L129.3,351.7 L129.8,351.6 L130.3,351.6 L130.8,351.5 L131.3,351.4 L131.8,351.3 L132.3,351.2 L132.8,351.1 L133.3,351.0 L133.8,351.0 L134.3,350.9 L134.8,350.8 L135.3,350.7 L135.8,350.6 L136.3,350.5 L136.8,350.4 L137.3,350.3 L137.8,350.2 L138.3,350.1 L138.8,350.0 L139.3,350.0 L139.8,349.9 L140.3,349.8 L140.8,349.7 L141.3,349.6 L141.8,349.5 L142.3,349.4 L142.8,349.3 L143.3,349.2 L143.8,349.1 L144.3,349.0 L144.8,348.9 L145.3,348.8 L145.8,348.7 L146.3,348.6 L146.8,348.4 L147.3,348.3 L147.8,348.2 L148.3,348.1 L148.8,348.0 L149.3,347.9 L149.8,347.8 L150.3,347.7 L150.8,347.6 L151.3,347.5 L151.8,347.4 L152.3,347.3 L152.8,347.2 L153.3,347.0 L153.8,346.9 L154.3,346.8 L154.8,346.7 L155.3,346.6 L155.8,346.5 L156.3,346.4 L156.8,346.3 L157.3,346.1 L157.8,346.0 L158.3,345.9 L158.8,345.8 L159.3,345.7 L159.8,345.6 L160.3,345.5 L160.8,345.3 L161.3,345.2 L161.8,345.1 L162.3,345.0 L162.8,344.9 L163.3,344.8 L163.8,344.6 L164.3,344.5 L164.8,344.4 L165.3,344.3 L165.8,344.2 L166.3,344.1 L166.8,343.9 L167.3,343.8 L167.8,343.7 L168.3,343.6 L168.8,343.5 L169.3,343.4 L169.8,343.2 L170.3,343.1 L170.8,343.0 L171.3,342.9 L171.8,342.8 L172.3,342.7 L172.8,342.5 L173.3,342.4 L173.8,342.3 L174.3,342.2 L174.8,342.1 L175.3,342.0 L175.8,341.9 L176.3,341.7 L176.8,341.6 L177.3,341.5 L177.8,341.4 L178.3,341.3 L178.8,341.2 L179.3,341.1 L179.8,341.0 L180.3,340.9 L180.8,340.7 L181.3,340.6 L181.8,340.5 L182.3,340.4 L182.8,340.3 L183.3,340.2 L183.8,340.1 L184.3,340.0 L184.8,339.9 L185.3,339.8 L185.8,339.7 L186.3,339.6 L186.8,339.5 L187.3,339.4 L187.8,339.3 L188.3,339.2 L188.8,339.1 L189.3,339.0 L189.8,338.9 L190.3,338.8 L190.8,338.7 L191.3,338.6 L191.8,338.5 L192.3,338.4 L192.8,338.4 L193.3,338.3 L193.8,338.2 L194.3,338.1 L194.8,338.0 L195.3,337.9 L195.8,337.8 L196.3,337.8 L196.8,337.7 L197.3,337.6 L197.8,337.5 L198.3,337.4 L198.8,337.4 L199.3,337.3 L199.8,337.2 L200.3,337.2 L200.8,337.1 L201.3,337.0 L201.8,336.9 L202.3,336.9 L202.8,336.8 L203.3,336.8 L203.8,336.7 L204.3,336.6 L204.8,336.6 L205.3,336.5 L205.8,336.5 L206.3,336.4 L206.8,336.3 L207.3,336.3 L207.8,336.2 L208.3,336.2 L208.8,336.1 L209.3,336.1 L209.8,336.1 L210.3,336.0 L210.8,336.0 L211.3,335.9 L211.8,335.9 L212.3,335.9 L212.8,335.8 L213.3,335.8 L213.8,335.8 L214.3,335.7 L214.8,335.7 L215.3,335.7 L215.8,335.6 L216.3,335.6 L216.8,335.6 L217.3,335.6 L217.8,335.6 L218.3,335.5 L218.8,335.5 L219.3,335.5 L219.8,335.5 L220.3,335.5 L220.8,335.5 L221.3,335.5 L221.8,335.5 L222.3,335.5 L222.8,335.5 L223.3,335.5 L223.8,335.5 L224.3,335.5 L224.8,335.5 L225.3,335.5 L225.8,335.5 L226.3,335.5 L226.8,335.5 L227.3,335.5 L227.8,335.5 L228.3,335.5 L228.8,335.6 L229.3,335.6 L229.8,335.6 L230.3,335.6 L230.8,335.6 L231.3,335.7 L231.8,335.7 L232.3,335.7 L232.8,335.7 L233.3,335.8 L233.8,335.8 L234.3,335.8 L234.8,335.9 L235.3,335.9 L235.8,335.9 L236.3,336.0 L236.8,336.0 L237.3,336.0 L237.8,336.1 L238.3,336.1 L238.8,336.2 L239.3,336.2 L239.8,336.3 L240.3,336.3 L240.8,336.4 L241.3,336.4 L241.8,336.5 L242.3,336.5 L242.8,336.6 L243.3,336.6 L243.8,336.7 L244.3,336.7 L244.8,336.8 L245.3,336.9 L245.8,336.9 L246.3,337.0 L246.8,337.0 L247.3,337.1 L247.8,337.2 L248.3,337.2 L248.8,337.3 L249.3,337.4 L249.8,337.4 L250.3,337.5 L250.8,337.6 L251.3,337.6 L251.8,337.7 L252.3,337.8 L252.8,337.9 L253.3,337.9 L253.8,338.0 L254.3,338.1 L254.8,338.1 L255.3,338.2 L255.8,338.3 L256.3,338.4 L256.8,338.4 L257.3,338.5 L257.8,338.6 L258.3,338.7 L258.8,338.8 L259.3,338.8 L259.8,338.9 L260.3,339.0 L260.8,339.1 L261.3,339.2 L261.8,339.2 L262.3,339.3 L262.8,339.4 L263.3,339.5 L263.8,339.5 L264.3,339.6 L264.8,339.7 L265.3,339.8 L265.8,339.9 L266.3,339.9 L266.8,340.0 L267.3,340.1 L267.8,340.2 L268.3,340.3 L268.8,340.3 L269.3,340.4 L269.8,340.5 L270.3,340.6 L270.8,340.6 L271.3,340.7 L271.8,340.8 L272.3,340.9 L272.8,340.9 L273.3,341.0 L273.8,341.1 L274.3,341.2 L274.8,341.2 L275.3,341.3 L275.8,341.4 L276.3,341.4 L276.8,341.5 L277.3,341.6 L277.8,341.6 L278.3,341.7 L278.8,341.7 L279.3,341.8 L279.8,341.9 L280.3,341.9 L280.8,342.0 L281.3,342.0 L281.8,342.1 L282.3,342.1 L282.8,342.2 L283.3,342.2 L283.8,342.3 L284.3,342.3 L284.8,342.4 L285.3,342.4 L285.8,342.5 L286.3,342.5 L286.8,342.5 L287.3,342.6 L287.8,342.6 L288.3,342.6 L288.8,342.7 L289.3,342.7 L289.8,342.7 L290.3,342.7 L290.8,342.8 L291.3,342.8 L291.8,342.8 L292.3,342.8 L292.8,342.8 L293.3,342.8 L293.8,342.8 L294.3,342.8 L294.8,342.8 L295.3,342.8 L295.8,342.8 L296.3,342.8 L296.8,342.8 L297.3,342.8 L297.8,342.8 L298.3,342.7 L298.8,342.7 L299.3,342.7 L299.8,342.7 L300.3,342.6 L300.8,342.6 L301.3,342.6 L301.8,342.5 L302.3,342.5 L302.8,342.4 L303.3,342.4 L303.8,342.3 L304.3,342.3 L304.8,342.2 L305.3,342.1 L305.8,342.1 L306.3,342.0 L306.8,341.9 L307.3,341.9 L307.8,341.8 L308.3,341.7 L308.8,341.6 L309.3,341.5 L309.8,341.4 L310.3,341.3 L310.8,341.2 L311.3,341.1 L311.8,341.0 L312.3,340.9 L312.8,340.8 L313.3,340.7 L313.8,340.6 L314.3,340.5 L314.8,340.3 L315.3,340.2 L315.8,340.1 L316.3,340.0 L316.8,339.8 L317.3,339.7 L317.8,339.5 L318.3,339.4 L318.8,339.3 L319.3,339.1 L319.8,338.9 L320.3,338.8 L320.8,338.6 L321.3,338.5 L321.8,338.3 L322.3,338.1 L322.8,338.0 L323.3,337.8 L323.8,337.6 L324.3,337.5 L324.8,337.3 L325.3,337.1 L325.8,336.9 L326.3,336.7 L326.8,336.5 L327.3,336.4 L327.8,336.2 L328.3,336.0 L328.8,335.8 L329.3,335.6 L329.8,335.4 L330.3,335.2 L330.8,335.0 L331.3,334.8 L331.8,334.6 L332.3,334.4 L332.8,334.1 L333.3,333.9 L333.8,333.7 L334.3,333.5 L334.8,333.3 L335.3,333.1 L335.8,332.9 L336.3,332.6 L336.8,332.4 L337.3,332.2 L337.8,332.0 L338.3,331.7 L338.8,331.5 L339.3,331.3 L339.8,331.0 L340.3,330.8 L340.8,330.6 L341.3,330.3 L341.8,330.1 L342.3,329.9 L342.8,329.6 L343.3,329.4 L343.8,329.1 L344.3,328.9 L344.8,328.7 L345.3,328.4 L345.8,328.2 L346.3,327.9 L346.8,327.7 L347.3,327.4 L347.8,327.2 L348.3,326.9 L348.8,326.6 L349.3,326.4 L349.8,326.1 L350.3,325.9 L350.8,325.6 L351.3,325.3 L351.8,325.1 L352.3,324.8 L352.8,324.5 L353.3,324.3 L353.8,324.0 L354.3,323.7 L354.8,323.4 L355.3,323.1 L355.8,322.9 L356.3,322.6 L356.8,322.3 L357.3,322.0 L357.8,321.7 L358.3,321.4 L358.8,321.1 L359.3,320.8 L359.8,320.5 L360.3,320.2 L360.8,319.9 L361.3,319.6 L361.8,319.3 L362.3,319.0 L362.8,318.7 L363.3,318.4 L363.8,318.0 L364.3,317.7 L364.8,317.4 L365.3,317.1 L365.8,316.7 L366.3,316.4 L366.8,316.1 L367.3,315.8 L367.8,315.4 L368.3,315.1 L368.8,314.8 L369.3,314.4 L369.8,314.1 L370.3,313.8 L370.8,313.4 L371.3,313.1 L371.8,312.7 L372.3,312.4 L372.8,312.1 L373.3,311.7 L373.8,311.4 L374.3,311.1 L374.8,310.7 L375.3,310.4 L375.8,310.1 L376.3,309.8 L376.8,309.4 L377.3,309.1 L377.8,308.8 L378.3,308.5 L378.8,308.2 L379.3,307.9 L379.8,307.6 L380.3,307.3 L380.8,307.0 L381.3,306.8 L381.8,306.5 L382.3,306.3 L382.8,306.0 L383.3,305.8 L383.8,305.5 L384.3,305.3 L384.8,305.1 L385.3,304.9 L385.8,304.7 L386.3,304.6 L386.8,304.4 L387.3,304.3 L387.8,304.1 L388.3,304.0 L388.8,303.9 L389.3,303.8 L389.8,303.8 L390.3,303.7 L390.8,303.7 L391.3,303.6 L391.8,303.6 L392.3,303.6 L392.8,303.7 L393.3,303.7 L393.8,303.8 L394.3,303.8 L394.8,303.9 L395.3,304.0 L395.8,304.2 L396.3,304.3 L396.8,304.5 L397.3,304.7 L397.8,304.8 L398.3,305.0 L398.8,305.3 L399.3,305.5 L399.8,305.8 L400.3,306.0 L400.8,306.3 L401.3,306.6 L401.8,306.9 L402.3,307.2 L402.8,307.6 L403.3,307.9 L403.8,308.3 L404.3,308.7 L404.8,309.0 L405.3,309.4 L405.8,309.8 L406.3,310.2 L406.8,310.7 L407.3,311.1 L407.8,311.5 L408.3,311.9 L408.8,312.4 L409.3,312.8 L409.8,313.3 L410.3,313.8 L410.8,314.2 L411.3,314.7 L411.8,315.2 L412.3,315.6 L412.8,316.1 L413.3,316.6 L413.8,317.1 L414.3,317.6 L414.8,318.1 L415.3,318.5 L415.8,319.0 L416.3,319.5 L416.8,320.0 L417.3,320.5 L417.8,321.0 L418.3,321.4 L418.8,321.9 L419.3,322.4 L419.8,322.9 L420.3,323.3 L420.8,323.8 L421.3,324.3 L421.8,324.8 L422.3,325.2 L422.8,325.7 L423.3,326.1 L423.8,326.6 L424.3,327.0 L424.8,327.5 L425.3,327.9 L425.8,328.4 L426.3,328.8 L426.8,329.2 L427.3,329.6 L427.8,330.1 L428.3,330.5 L428.8,330.9 L429.3,331.3 L429.8,331.7 L430.3,332.1 L430.8,332.5 L431.3,332.9 L431.8,333.3 L432.3,333.6 L432.8,334.0 L433.3,334.4 L433.8,334.7 L434.3,335.1 L434.8,335.4 L435.3,335.8 L435.8,336.1 L436.3,336.5 L436.8,336.8 L437.3,337.1 L437.8,337.5 L438.3,337.8 L438.8,338.1 L439.3,338.4 L439.8,338.7 L440.3,339.0 L440.8,339.3 L441.3,339.6 L441.8,339.9 L442.3,340.2 L442.8,340.5 L443.3,340.7 L443.8,341.0 L444.3,341.3 L444.8,341.5 L445.3,341.8 L445.8,342.0 L446.3,342.3 L446.8,342.5 L447.3,342.8 L447.8,343.0 L448.3,343.2 L448.8,343.5 L449.3,343.7 L449.8,343.9 L450.3,344.1 L450.8,344.3 L451.3,344.5 L451.8,344.7 L452.3,344.9 L452.8,345.1 L453.3,345.3 L453.8,345.5 L454.3,345.7 L454.8,345.9 L455.3,346.1 L455.8,346.2 L456.3,346.4 L456.8,346.6 L457.3,346.7 L457.8,346.9 L458.3,347.1 L458.8,347.2 L459.3,347.4 L459.8,347.5 L460.3,347.7 L460.8,347.8 L461.3,348.0 L461.8,348.1 L462.3,348.2 L462.8,348.4 L463.3,348.5 L463.8,348.6 L464.3,348.8 L464.8,348.9 L465.3,349.0 L465.8,349.1 L466.3,349.3 L466.8,349.4 L467.3,349.5 L467.8,349.6 L468.3,349.7 L468.8,349.8 L469.3,349.9 L469.8,350.0 L470.3,350.1 L470.8,350.2 L471.3,350.3 L471.8,350.4 L472.3,350.5 L472.8,350.6 L473.3,350.7 L473.8,350.8 L474.3,350.9 L474.8,351.0 L475.3,351.1 L475.8,351.1 L476.3,351.2 L476.8,351.3 L477.3,351.4 L477.8,351.5 L478.3,351.5 L478.8,351.6 L479.3,351.7 L479.8,351.8 L480.3,351.8 L480.8,351.9 L481.3,352.0 L481.8,352.1 L482.3,352.1 L482.8,352.2 L483.3,352.3 L483.8,352.3 L484.3,352.4 L484.8,352.5 L485.3,352.5 L485.8,352.6 L486.3,352.6 L486.8,352.7 L487.3,352.8 L487.8,352.8 L488.3,352.9 L488.8,352.9 L489.3,353.0 L489.8,353.0 L490.3,353.1 L490.8,353.1 L491.3,353.2 L491.8,353.3 L492.3,353.3 L492.8,353.4 L493.3,353.4 L493.8,353.5 L494.3,353.5 L494.8,353.6 L495.3,353.6 L495.8,353.7 L496.3,353.7 L496.8,353.7 L497.3,353.8 L497.8,353.8 L498.3,353.9 L498.8,353.9 L499.3,354.0 L499.8,354.0 L500.3,354.1 L500.8,354.1 L501.3,354.1 L501.8,354.2 L502.3,354.2 L502.8,354.3 L503.3,354.3 L503.8,354.3 L504.3,354.4 L504.8,354.4 L505.3,354.5 L505.8,354.5 L506.3,354.5 L506.8,354.6 L507.3,354.6 L507.8,354.7 L508.3,354.7 L508.8,354.7 L509.3,354.8 L509.8,354.8 L510.3,354.8 L510.8,354.9 L511.3,354.9 L511.8,354.9 L512.3,355.0 L512.8,355.0 L513.3,355.1 L513.8,355.1 L514.3,355.1 L514.8,355.2 L515.3,355.2 L515.8,355.2 L516.3,355.3 L516.8,355.3 L517.3,355.3 L517.8,355.4 L518.3,355.4 L518.8,355.4 L519.3,355.4 L519.8,355.5 L520.3,355.5 L520.8,355.5 L521.3,355.6 L521.8,355.6 L522.3,355.6 L522.8,355.7 L523.3,355.7 L523.8,355.7 L524.3,355.8 L524.8,355.8 L525.3,355.8 L525.8,355.8 L526.3,355.9 L526.8,355.9 L527.3,355.9 L527.8,356.0 L528.3,356.0 L528.8,356.0 L529.3,356.0 L529.8,356.1 L530.3,356.1 L530.8,356.1 L531.3,356.2 L531.8,356.2 L532.3,356.2 L532.8,356.2 L533.3,356.3 L533.8,356.3 L534.3,356.3 L534.8,356.3 L535.3,356.4 L535.8,356.4 L536.3,356.4 L536.8,356.4 L537.3,356.5 L537.8,356.5 L538.3,356.5 L538.8,356.6 L539.3,356.6 L539.8,356.6 L540.3,356.6 L540.8,356.7 L541.3,356.7 L541.8,356.7 L542.3,356.7 L542.8,356.8 L543.3,356.8 L543.8,356.8 L544.3,356.8 L544.8,356.9 L545.3,356.9 L545.8,356.9 L546.3,356.9 L546.8,357.0 L547.3,357.0 L547.8,357.0 L548.3,357.0 L548.8,357.0 L549.3,357.1 L549.8,357.1 L550.3,357.1 L550.8,357.1 L551.3,357.2 L551.8,357.2 L552.3,357.2 L552.8,357.2 L553.3,357.3 L553.8,357.3 L554.3,357.3 L554.8,357.3 L555.3,357.4 L555.8,357.4 L556.3,357.4 L556.8,357.4 L557.3,357.4 L557.8,357.5 L558.3,357.5 L558.8,357.5 L559.3,357.5 L559.8,357.6 L560.3,357.6 L560.8,357.6 L561.3,357.6 L561.8,357.6 L562.3,357.7 L562.8,357.7 L563.3,357.7 L563.8,357.7 L564.3,357.8 L564.8,357.8 L565.3,357.8 L565.8,357.8 L566.3,357.8 L566.8,357.9 L567.3,357.9 L567.8,357.9 L568.3,357.9 L568.8,358.0 L569.3,358.0 L569.8,358.0 L570.3,358.0 L570.8,358.0 L571.3,358.1 L571.8,358.1 L572.3,358.1 L572.8,358.1 L573.3,358.2 L573.8,358.2 L574.3,358.2 L574.8,358.2 L575.3,358.2 L575.8,358.3 L576.3,358.3 L576.8,358.3 L577.3,358.3 L577.8,358.3 L578.3,358.4 L578.8,358.4 L579.3,358.4 L579.8,358.4 L580.3,358.4 L580.8,358.5 L581.3,358.5 L581.8,358.5 L582.3,358.5 L582.8,358.6 L583.3,358.6 L583.8,358.6 L584.3,358.6 L584.8,358.6 L585.3,358.7 L585.8,358.7 L586.3,358.7 L586.8,358.7 L587.3,358.7 L587.5,358.7" stroke="#fa9600" />
<path d="M59.8,429.6 L60.3,429.6 L60.8,429.6 L61.3,429.5 L61.8,429.5 L62.3,429.5 L62.8,429.5 L63.3,429.5 L63.8,429.5 L64.3,429.5 L64.8,429.5 L65.3,429.4 L65.8,429.4 L66.3,429.4 L66.8,429.4 L67.3,429.4 L67.8,429.4 L68.3,429.4 L68.8,429.3 L69.3,429.3 L69.8,429.3 L70.3,429.3 L70.8,429.3 L71.3,429.3 L71.8,429.3 L72.3,429.2 L72.8,429.2 L73.3,429.2 L73.8,429.2 L74.3,429.2 L74.8,429.2 L75.3,429.1 L75.8,429.1 L76.3,429.1 L76.8,429.1 L77.3,429.1 L77.8,429.1 L78.3,429.0 L78.8,429.0 L79.3,429.0 L79.8,429.0 L80.3,429.0 L80.8,428.9 L81.3,428.9 L81.8,428.9 L82.3,428.9 L82.8,428.9 L83.3,428.8 L83.8,428.8 L84.3,428.8 L84.8,428.8 L85.3,428.7 L85.8,428.7 L86.3,428.7 L86.8,428.7 L87.3,428.7 L87.8,428.6 L88.3,428.6 L88.8,428.6 L89.3,428.6 L89.8,428.5 L90.3,428.5 L90.8,428.5 L91.3,428.4 L91.8,428.4 L92.3,428.4 L92.8,428.4 L93.3,428.3 L93.8,428.3 L94.3,428.3 L94.8,428.2 L95.3,428.2 L95.8,428.2 L96.3,428.1 L96.8,428.1 L97.3,428.1 L97.8,428.0 L98.3,428.0 L98.8,427.9 L99.3,427.9 L99.8,427.9 L100.3,427.8 L100.8,427.8 L101.3,427.8 L101.8,427.7 L102.3,427.7 L102.8,427.6 L103.3,427.6 L103.8,427.5 L104.3,427.5 L104.8,427.5 L105.3,427.4 L105.8,427.4 L106.3,427.3 L106.8,427.3 L107.3,427.2 L107.8,427.2 L108.3,427.1 L108.8,427.1 L109.3,427.0 L109.8,427.0 L110.3,426.9 L110.8,426.8 L111.3,426.8 L111.8,426.7 L112.3,426.7 L112.8,426.6 L113.3,426.5 L113.8,426.5 L114.3,426.4 L114.8,426.4 L115.3,426.3 L115.8,426.2 L116.3,426.2 L116.8,426.1 L117.3,426.0 L117.8,426.0 L118.3,425.9 L118.8,425.8 L119.3,425.7 L119.8,425.7 L120.3,425.6 L120.8,425.5 L121.3,425.4 L121.8,425.4 L122.3,425.3 L122.8,425.2 L123.3,425.1 L123.8,425.0 L124.3,425.0 L124.8,424.9 L125.3,424.8 L125.8,424.7 L126.3,424.6 L126.8,424.5 L127.3,424.4 L127.8,424.3 L128.3,424.2 L128.8,424.1 L129.3,424.1 L129.8,424.0 L130.3,423.9 L130.8,423.8 L131.3,423.7 L131.8,423.6 L132.3,423.5 L132.8,423.3 L133.3,423.2 L133.8,423.1 L134.3,423.0 L134.8,422.9 L135.3,422.8 L135.8,422.7 L136.3,422.6 L136.8,422.5 L137.3,422.4 L137.8,422.2 L138.3,422.1 L138.8,422.0 L139.3,421.9 L139.8,421.8 L140.3,421.6 L140.8,421.5 L141.3,421.4 L141.8,421.3 L142.3,421.1 L142.8,421.0 L143.3,420.9 L143.8,420.7 L144.3,420.6 L144.8,420.5 L145.3,420.3 L145.8,420.2 L146.3,420.1 L146.8,419.9 L147.3,419.8 L147.8,419.7 L148.3,419.5 L148.8,419.4 L149.3,419.2 L149.8,419.1 L150.3,419.0 L150.8,418.8 L151.3,418.7 L151.8,418.5 L152.3,418.4 L152.8,418.2 L153.3,418.1 L153.8,417.9 L154.3,417.8 L154.8,417.6 L155.3,417.5 L155.8,417.3 L156.3,417.2 L156.8,417.0 L157.3,416.8 L157.8,416.7 L158.3,416.5 L158.8,416.4 L159.3,416.2 L159.8,416.1 L160.3,415.9 L160.8,415.7 L161.3,415.6 L161.8,415.4 L162.3,415.3 L162.8,415.1 L163.3,414.9 L163.8,414.8 L164.3,414.6 L164.8,414.5 L165.3,414.3 L165.8,414.1 L166.3,414.0 L166.8,413.8 L167.3,413.7 L167.8,413.5 L168.3,413.3 L168.8,413.2 L169.3,413.0 L169.8,412.9 L170.3,412.7 L170.8,412.5 L171.3,412.4 L171.8,412.2 L172.3,412.0 L172.8,411.9 L173.3,411.7 L173.8,411.6 L174.3,411.4 L174.8,411.3 L175.3,411.1 L175.8,410.9 L176.3,410.8 L176.8,410.6 L177.3,410.5 L177.8,410.3 L178.3,410.2 L178.8,410.0 L179.3,409.9 L179.8,409.7 L180.3,409.6 L180.8,409.4 L181.3,409.3 L181.8,409.1 L182.3,409.0 L182.8,408.8 L183.3,408.7 L183.8,408.6 L184.3,408.4 L184.8,408.3 L185.3,408.1 L185.8,408.0 L186.3,407.9 L186.8,407.7 L187.3,407.6 L187.8,407.5 L188.3,407.4 L188.8,407.2 L189.3,407.1 L189.8,407.0 L190.3,406.9 L190.8,406.8 L191.3,406.6 L191.8,406.5 L192.3,406.4 L192.8,406.3 L193.3,406.2 L193.8,406.1 L194.3,406.0 L194.8,405.9 L195.3,405.8 L195.8,405.7 L196.3,405.6 L196.8,405.5 L197.3,405.4 L197.8,405.3 L198.3,405.2 L198.8,405.1 L199.3,405.0 L199.8,405.0 L200.3,404.9 L200.8,404.8 L201.3,404.7 L201.8,404.7 L202.3,404.6 L202.8,404.5 L203.3,404.5 L203.8,404.4 L204.3,404.3 L204.8,404.3 L205.3,404.2 L205.8,404.2 L206.3,404.1 L206.8,404.1 L207.3,404.0 L207.8,404.0 L208.3,404.0 L208.8,403.9 L209.3,403.9 L209.8,403.9 L210.3,403.8 L210.8,403.8 L211.3,403.8 L211.8,403.8 L212.3,403.8 L212.8,403.7 L213.3,403.7 L213.8,403.7 L214.3,403.7 L214.8,403.7 L215.3,403.7 L215.8,403.7 L216.3,403.7 L216.8,403.7 L217.3,403.7 L217.8,403.7 L218.3,403.8 L218.8,403.8 L219.3,403.8 L219.8,403.8 L220.3,403.8 L220.8,403.9 L221.3,403.9 L221.8,403.9 L222.3,404.0 L222.8,404.0 L223.3,404.1 L223.8,404.1 L224.3,404.1 L224.8,404.2 L225.3,404.2 L225.8,404.3 L226.3,404.4 L226.8,404.4 L227.3,404.5 L227.8,404.5 L228.3,404.6 L228.8,404.7 L229.3,404.7 L229.8,404.8 L230.3,404.9 L230.8,404.9 L231.3,405.0 L231.8,405.1 L232.3,405.2 L232.8,405.3 L233.3,405.4 L233.8,405.4 L234.3,405.5 L234.8,405.6 L235.3,405.7 L235.8,405.8 L236.3,405.9 L236.8,406.0 L237.3,406.1 L237.8,406.2 L238.3,406.3 L238.8,406.4 L239.3,406.5 L239.8,406.6 L240.3,406.7 L240.8,406.8 L241.3,406.9 L241.8,407.0 L242.3,407.2 L242.8,407.3 L243.3,407.4 L243.8,407.5 L244.3,407.6 L244.8,407.7 L245.3,407.9 L245.8,408.0 L246.3,408.1 L246.8,408.2 L247.3,408.3 L247.8,408.5 L248.3,408.6 L248.8,408.7 L249.3,408.8 L249.8,409.0 L250.3,409.1 L250.8,409.2 L251.3,409.3 L251.8,409.5 L252.3,409.6 L252.8,409.7 L253.3,409.8 L253.8,410.0 L254.3,410.1 L254.8,410.2 L255.3,410.3 L255.8,410.5 L256.3,410.6 L256.8,410.7 L257.3,410.9 L257.8,411.0 L258.3,411.1 L258.8,411.2 L259.3,411.4 L259.8,411.5 L260.3,411.6 L260.8,411.7 L261.3,411.9 L261.8,412.0 L262.3,412.1 L262.8,412.2 L263.3,412.3 L263.8,412.5 L264.3,412.6 L264.8,412.7 L265.3,412.8 L265.8,412.9 L266.3,413.0 L266.8,413.1 L267.3,413.3 L267.8,413.4 L268.3,413.5 L268.8,413.6 L269.3,413.7 L269.8,413.8 L270.3,413.9 L270.8,414.0 L271.3,414.1 L271.8,414.2 L272.3,414.3 L272.8,414.4 L273.3,414.5 L273.8,414.6 L274.3,414.7 L274.8,414.8 L275.3,414.9 L275.8,415.0 L276.3,415.0 L276.8,415.1 L277.3,415.2 L277.8,415.3 L278.3,415.4 L278.8,415.4 L279.3,415.5 L279.8,415.6 L280.3,415.6 L280.8,415.7 L281.3,415.8 L281.8,415.8 L282.3,415.9 L282.8,416.0 L283.3,416.0 L283.8,416.1 L284.3,416.1 L284.8,416.2 L285.3,416.2 L285.8,416.3 L286.3,416.3 L286.8,416.4 L287.3,416.4 L287.8,416.4 L288.3,416.5 L288.8,416.5 L289.3,416.5 L289.8,416.5 L290.3,416.6 L290.8,416.6 L291.3,416.6 L291.8,416.6 L292.3,416.6 L292.8,416.7 L293.3,416.7 L293.8,416.7 L294.3,416.7 L294.8,416.7 L295.3,416.7 L295.8,416.7 L296.3,416.7 L296.8,416.6 L297.3,416.6 L297.8,416.6 L298.3,416.6 L298.8,416.6 L299.3,416.6 L299.8,416.5 L300.3,416.5 L300.8,416.5 L301.3,416.4 L301.8,416.4 L302.3,416.4 L302.8,416.3 L303.3,416.3 L303.8,416.2 L304.3,416.2 L304.8,416.1 L305.3,416.1 L305.8,416.0 L306.3,415.9 L306.8,415.9 L307.3,415.8 L307.8,415.7 L308.3,415.7 L308.8,415.6 L309.3,415.5 L309.8,415.4 L310.3,415.4 L310.8,415.3 L311.3,415.2 L311.8,415.1 L312.3,415.0 L312.8,414.9 L313.3,414.8 L313.8,414.7 L314.3,414.6 L314.8,414.5 L315.3,414.4 L315.8,414.3 L316.3,414.2 L316.8,414.1 L317.3,413.9 L317.8,413.8 L318.3,413.7 L318.8,413.6 L319.3,413.4 L319.8,413.3 L320.3,413.2 L320.8,413.0 L321.3,412.9 L321.8,412.8 L322.3,412.6 L322.8,412.5 L323.3,412.3 L323.8,412.2 L324.3,412.0 L324.8,411.9 L325.3,411.7 L325.8,411.5 L326.3,411.4 L326.8,411.2 L327.3,411.0 L327.8,410.9 L328.3,410.7 L328.8,410.5 L329.3,410.4 L329.8,410.2 L330.3,410.0 L330.8,409.8 L331.3,409.6 L331.8,409.4 L332.3,409.2 L332.8,409.0 L333.3,408.8 L333.8,408.6 L334.3,408.4 L334.8,408.2 L335.3,408.0 L335.8,407.8 L336.3,407.6 L336.8,407.4 L337.3,407.2 L337.8,406.9 L338.3,406.7 L338.8,406.5 L339.3,406.3 L339.8,406.0 L340.3,405.8 L340.8,405.6 L341.3,405.3 L341.8,405.1 L342.3,404.8 L342.8,404.6 L343.3,404.3 L343.8,404.1 L344.3,403.8 L344.8,403.5 L345.3,403.3 L345.8,403.0 L346.3,402.7 L346.8,402.4 L347.3,402.2 L347.8,401.9 L348.3,401.6 L348.8,401.3 L349.3,401.0 L349.8,400.7 L350.3,400.4 L350.8,400.1 L351.3,399.8 L351.8,399.5 L352.3,399.2 L352.8,398.8 L353.3,398.5 L353.8,398.2 L354.3,397.9 L354.8,397.5 L355.3,397.2 L355.8,396.8 L356.3,396.5 L356.8,396.1 L357.3,395.8 L357.8,395.4 L358.3,395.0 L358.8,394.6 L359.3,394.3 L359.8,393.9 L360.3,393.5 L360.8,393.1 L361.3,392.7 L361.8,392.3 L362.3,391.9 L362.8,391.5 L363.3,391.0 L363.8,390.6 L364.3,390.2 L364.8,389.8 L365.3,389.3 L365.8,388.9 L366.3,388.4 L366.8,388.0 L367.3,387.5 L367.8,387.1 L368.3,386.6 L368.8,386.1 L369.3,385.6 L369.8,385.2 L370.3,384.7 L370.8,384.2 L371.3,383.7 L371.8,383.2 L372.3,382.7 L372.8,382.2 L373.3,381.8 L373.8,381.3 L374.3,380.8 L374.8,380.3 L375.3,379.8 L375.8,379.3 L376.3,378.8 L376.8,378.3 L377.3,377.8 L377.8,377.3 L378.3,376.8 L378.8,376.3 L379.3,375.8 L379.8,375.4 L380.3,374.9 L380.8,374.5 L381.3,374.0 L381.8,373.6 L382.3,373.1 L382.8,372.7 L383.3,372.3 L383.8,371.9 L384.3,371.6 L384.8,371.2 L385.3,370.8 L385.8,370.5 L386.3,370.2 L386.8,369.9 L387.3,369.6 L387.8,369.4 L388.3,369.1 L388.8,368.9 L389.3,368.7 L389.8,368.6 L390.3,368.4 L390.8,368.3 L391.3,368.2 L391.8,368.2 L392.3,368.1 L392.8,368.1 L393.3,368.1 L393.8,368.2 L394.3,368.2 L394.8,368.3 L395.3,368.5 L395.8,368.6 L396.3,368.8 L396.8,369.0 L397.3,369.2 L397.8,369.5 L398.3,369.8 L398.8,370.1 L399.3,370.4 L399.8,370.8 L400.3,371.1 L400.8,371.5 L401.3,371.9 L401.8,372.4 L402.3,372.8 L402.8,373.3 L403.3,373.8 L403.8,374.3 L404.3,374.8 L404.8,375.4 L405.3,375.9 L405.8,376.5 L406.3,377.1 L406.8,377.6 L407.3,378.2 L407.8,378.8 L408.3,379.4 L408.8,380.1 L409.3,380.7 L409.8,381.3 L410.3,381.9 L410.8,382.6 L411.3,383.2 L411.8,383.8 L412.3,384.5 L412.8,385.1 L413.3,385.7 L413.8,386.3 L414.3,387.0 L414.8,387.6 L415.3,388.2 L415.8,388.8 L416.3,389.5 L416.8,390.1 L417.3,390.7 L417.8,391.3 L418.3,391.9 L418.8,392.5 L419.3,393.1 L419.8,393.6 L420.3,394.2 L420.8,394.8 L421.3,395.3 L421.8,395.9 L422.3,396.4 L422.8,397.0 L423.3,397.5 L423.8,398.0 L424.3,398.5 L424.8,399.1 L425.3,399.6 L425.8,400.1 L426.3,400.5 L426.8,401.0 L427.3,401.5 L427.8,402.0 L428.3,402.4 L428.8,402.9 L429.3,403.3 L429.8,403.7 L430.3,404.2 L430.8,404.6 L431.3,405.0 L431.8,405.4 L432.3,405.8 L432.8,406.2 L433.3,406.6 L433.8,406.9 L434.3,407.3 L434.8,407.7 L435.3,408.0 L435.8,408.4 L436.3,408.7 L436.8,409.0 L437.3,409.4 L437.8,409.7 L438.3,410.0 L438.8,410.3 L439.3,410.6 L439.8,410.9 L440.3,411.2 L440.8,411.5 L441.3,411.8 L441.8,412.0 L442.3,412.3 L442.8,412.6 L443.3,412.8 L443.8,413.1 L444.3,413.3 L444.8,413.6 L445.3,413.8 L445.8,414.1 L446.3,414.3 L446.8,414.5 L447.3,414.7 L447.8,414.9 L448.3,415.1 L448.8,415.4 L449.3,415.6 L449.8,415.8 L450.3,415.9 L450.8,416.1 L451.3,416.3 L451.8,416.5 L452.3,416.7 L452.8,416.9 L453.3,417.0 L453.8,417.2 L454.3,417.4 L454.8,417.5 L455.3,417.7 L455.8,417.8 L456.3,418.0 L456.8,418.1 L457.3,418.3 L457.8,418.4 L458.3,418.5 L458.8,418.7 L459.3,418.8 L459.8,418.9 L460.3,419.1 L460.8,419.2 L461.3,419.3 L461.8,419.4 L462.3,419.6 L462.8,419.7 L463.3,419.8 L463.8,419.9 L464.3,420.0 L464.8,420.1 L465.3,420.2 L465.8,420.3 L466.3,420.4 L466.8,420.5 L467.3,420.6 L467.8,420.7 L468.3,420.8 L468.8,420.9 L469.3,421.0 L469.8,421.1 L470.3,421.2 L470.8,421.2 L471.3,421.3 L471.8,421.4 L472.3,421.5 L472.8,421.6 L473.3,421.6 L473.8,421.7 L474.3,421.8 L474.8,421.9 L475.3,421.9 L475.8,422.0 L476.3,422.1 L476.8,422.2 L477.3,422.2 L477.8,422.3 L478.3,422.4 L478.8,422.4 L479.3,422.5 L479.8,422.5 L480.3,422.6 L480.8,422.7 L481.3,422.7 L481.8,422.8 L482.3,422.8 L482.8,422.9 L483.3,422.9 L483.8,423.0 L484.3,423.1 L484.8,423.1 L485.3,423.2 L485.8,423.2 L486.3,423.3 L486.8,423.3 L487.3,423.4 L487.8,423.4 L488.3,423.5 L488.8,423.5 L489.3,423.6 L489.8,423.6 L490.3,423.6 L490.8,423.7 L491.3,423.7 L491.8,423.8 L492.3,423.8 L492.8,423.9 L493.3,423.9 L493.8,423.9 L494.3,424.0 L494.8,424.0 L495.3,424.1 L495.8,424.1 L496.3,424.1 L496.8,424.2 L497.3,424.2 L497.8,424.3 L498.3,424.3 L498.8,424.3 L499.3,424.4 L499.8,424.4 L500.3,424.4 L500.8,424.5 L501.3,424.5 L501.8,424.5 L502.3,424.6 L502.8,424.6 L503.3,424.6 L503.8,424.7 L504.3,424.7 L504.8,424.7 L505.3,424.8 L505.8,424.8 L506.3,424.8 L506.8,424.9 L507.3,424.9 L507.8,424.9 L508.3,424.9 L508.8,425.0 L509.3,425.0 L509.8,425.0 L510.3,425.1 L510.8,425.1 L511.3,425.1 L511.8,425.1 L512.3,425.2 L512.8,425.2 L513.3,425.2 L513.8,425.2 L514.3,425.3 L514.8,425.3 L515.3,425.3 L515.8,425.3 L516.3,425.4 L516.8,425.4 L517.3,425.4 L517.8,425.4 L518.3,425.5 L518.8,425.5 L519.3,425.5 L519.8,425.5 L520.3,425.6 L520.8,425.6 L521.3,425.6 L521.8,425.6 L522.3,425.6 L522.8,425.7 L523.3,425.7 L523.8,425.7 L524.3,425.7 L524.8,425.8 L525.3,425.8 L525.8,425.8 L526.3,425.8 L526.8,425.8 L527.3,425.9 L527.8,425.9 L528.3,425.9 L528.8,425.9 L529.3,425.9 L529.8,426.0 L530.3,426.0 L530.8,426.0 L531.3,426.0 L531.8,426.0 L532.3,426.0 L532.8,426.1 L533.3,426.1 L533.8,426.1 L534.3,426.1 L534.8,426.1 L535.3,426.2 L535.8,426.2 L536.3,426.2 L536.8,426.2 L537.3,426.2 L537.8,426.2 L538.3,426.3 L538.8,426.3 L539.3,426.3 L539.8,426.3 L540.3,426.3 L540.8,426.3 L541.3,426.4 L541.8,426.4 L542.3,426.4 L542.8,426.4 L543.3,426.4 L543.8,426.4 L544.3,426.5 L544.8,426.5 L545.3,426.5 L545.8,426.5 L546.3,426.5 L546.8,426.5 L547.3,426.5 L547.8,426.6 L548.3,426.6 L548.8,426.6 L549.3,426.6 L549.8,426.6 L550.3,426.6 L550.8,426.6 L551.3,426.7 L551.8,426.7 L552.3,426.7 L552.8,426.7 L553.3,426.7 L553.8,426.7 L554.3,426.7 L554.8,426.8 L555.3,426.8 L555.8,426.8 L556.3,426.8 L556.8,426.8 L557.3,426.8 L557.8,426.8 L558.3,426.9 L558.8,426.9 L559.3,426.9 L559.8,426.9 L560.3,426.9 L560.8,426.9 L561.3,426.9 L561.8,426.9 L562.3,427.0 L562.8,427.0 L563.3,427.0 L563.8,427.0 L564.3,427.0 L564.8,427.0 L565.3,427.0 L565.8,427.0 L566.3,427.1 L566.8,427.1 L567.3,427.1 L567.8,427.1 L568.3,427.1 L568.8,427.1 L569.3,427.1 L569.8,427.1 L570.3,427.2 L570.8,427.2 L571.3,427.2 L571.8,427.2 L572.3,427.2 L572.8,427.2 L573.3,427.2 L573.8,427.2 L574.3,427.2 L574.8,427.3 L575.3,427.3 L575.8,427.3 L576.3,427.3 L576.8,427.3 L577.3,427.3 L577.8,427.3 L578.3,427.3 L578.8,427.3 L579.3,427.4 L579.8,427.4 L580.3,427.4 L580.8,427.4 L581.3,427.4 L581.8,427.4 L582.3,427.4 L582.8,427.4 L583.3,427.4 L583.8,427.4 L584.3,427.5 L584.8,427.5 L585.3,427.5 L585.8,427.5 L586.3,427.5 L586.8,427.5 L587.3,427.5 L587.5,427.5" stroke="#fcbe00" />
<path d="M59.8,549.7 L60.3,549.7 L60.8,549.7 L61.3,549.7 L61.8,549.7 L62.3,549.6 L62.8,549.6 L63.3,549.6 L63.8,549.6 L64.3,549.5 L64.8,549.5 L65.3,549.5 L65.8,549.5 L66.3,549.4 L66.8,549.4 L67.3,549.4 L67.8,549.4 L68.3,549.3 L68.8,549.3 L69.3,549.3 L69.8,549.2 L70.3,549.2 L70.8,549.2 L71.3,549.2 L71.8,549.1 L72.3,549.1 L72.8,549.1 L73.3,549.1 L73.8,549.0 L74.3,549.0 L74.8,549.0 L75.3,548.9 L75.8,548.9 L76.3,548.9 L76.8,548.8 L77.3,548.8 L77.8,548.8 L78.3,548.8 L78.8,548.7 L79.3,548.7 L79.8,548.7 L80.3,548.6 L80.8,548.6 L81.3,548.6 L81.8,548.5 L82.3,548.5 L82.8,548.5 L83.3,548.4 L83.8,548.4 L84.3,548.4 L84.8,548.3 L85.3,548.3 L85.8,548.2 L86.3,548.2 L86.8,548.2 L87.3,548.1 L87.8,548.1 L88.3,548.1 L88.8,548.0 L89.3,548.0 L89.8,547.9 L90.3,547.9 L90.8,547.9 L91.3,547.8 L91.8,547.8 L92.3,547.7 L92.8,547.7 L93.3,547.7 L93.8,547.6 L94.3,547.6 L94.8,547.5 L95.3,547.5 L95.8,547.5 L96.3,547.4 L96.8,547.4 L97.3,547.3 L97.8,547.3 L98.3,547.2 L98.8,547.2 L99.3,547.1 L99.8,547.1 L100.3,547.1 L100.8,547.0 L101.3,547.0 L101.8,546.9 L102.3,546.9 L102.8,546.8 L103.3,546.8 L103.8,546.7 L104.3,546.7 L104.8,546.6 L105.3,546.6 L105.8,546.5 L106.3,546.5 L106.8,546.4 L107.3,546.4 L107.8,546.3 L108.3,546.3 L108.8,546.2 L109.3,546.1 L109.8,546.1 L110.3,546.0 L110.8,546.0 L111.3,545.9 L111.8,545.9 L112.3,545.8 L112.8,545.8 L113.3,545.7 L113.8,545.6 L114.3,545.6 L114.8,545.5 L115.3,545.5 L115.8,545.4 L116.3,545.3 L116.8,545.3 L117.3,545.2 L117.8,545.2 L118.3,545.1 L118.8,545.0 L119.3,545.0 L119.8,544.9 L120.3,544.8 L120.8,544.8 L121.3,544.7 L121.8,544.6 L122.3,544.6 L122.8,544.5 L123.3,544.4 L123.8,544.4 L124.3,544.3 L124.8,544.2 L125.3,544.2 L125.8,544.1 L126.3,544.0 L126.8,544.0 L127.3,543.9 L127.8,543.8 L128.3,543.8 L128.8,543.7 L129.3,543.6 L129.8,543.5 L130.3,543.5 L130.8,543.4 L131.3,543.3 L131.8,543.3 L132.3,543.2 L132.8,543.1 L133.3,543.0 L133.8,543.0 L134.3,542.9 L134.8,542.8 L135.3,542.7 L135.8,542.6 L136.3,542.6 L136.8,542.5 L137.3,542.4 L137.8,542.3 L138.3,542.3 L138.8,542.2 L139.3,542.1 L139.8,542.0 L140.3,541.9 L140.8,541.9 L141.3,541.8 L141.8,541.7 L142.3,541.6 L142.8,541.5 L143.3,541.5 L143.8,541.4 L144.3,541.3 L144.8,541.2 L145.3,541.1 L145.8,541.0 L146.3,541.0 L146.8,540.9 L147.3,540.8 L147.8,540.7 L148.3,540.6 L148.8,540.5 L149.3,540.5 L149.8,540.4 L150.3,540.3 L150.8,540.2 L151.3,540.1 L151.8,540.0 L152.3,539.9 L152.8,539.9 L153.3,539.8 L153.8,539.7 L154.3,539.6 L154.8,539.5 L155.3,539.4 L155.8,539.3 L156.3,539.3 L156.8,539.2 L157.3,539.1 L157.8,539.0 L158.3,538.9 L158.8,538.8 L159.3,538.7 L159.8,538.6 L160.3,538.6 L160.8,538.5 L161.3,538.4 L161.8,538.3 L162.3,538.2 L162.8,538.1 L163.3,538.0 L163.8,537.9 L164.3,537.9 L164.8,537.8 L165.3,537.7 L165.8,537.6 L166.3,537.5 L166.8,537.4 L167.3,537.3 L167.8,537.3 L168.3,537.2 L168.8,537.1 L169.3,537.0 L169.8,536.9 L170.3,536.8 L170.8,536.7 L171.3,536.7 L171.8,536.6 L172.3,536.5 L172.8,536.4 L173.3,536.3 L173.8,536.2 L174.3,536.2 L174.8,536.1 L175.3,536.0 L175.8,535.9 L176.3,535.8 L176.8,535.7 L177.3,535.7 L177.8,535.6 L178.3,535.5 L178.8,535.4 L179.3,535.3 L179.8,535.3 L180.3,535.2 L180.8,535.1 L181.3,535.0 L181.8,534.9 L182.3,534.9 L182.8,534.8 L183.3,534.7 L183.8,534.6 L184.3,534.6 L184.8,534.5 L185.3,534.4 L185.8,534.3 L186.3,534.3 L186.8,534.2 L187.3,534.1 L187.8,534.0 L188.3,534.0 L188.8,533.9 L189.3,533.8 L189.8,533.8 L190.3,533.7 L190.8,533.6 L191.3,533.6 L191.8,533.5 L192.3,533.4 L192.8,533.4 L193.3,533.2 L193.8,533.0 L194.3,532.7 L194.8,532.0 L195.3,531.2 L195.8,530.6 L196.3,530.3 L196.8,530.7 L197.3,531.3 L197.8,531.9 L198.3,532.3 L198.8,532.5 L199.3,532.5 L199.8,532.5 L200.3,532.5 L200.8,532.4 L201.3,532.4 L201.8,532.3 L202.3,532.3 L202.8,532.2 L203.3,532.2 L203.8,532.1 L204.3,532.1 L204.8,532.0 L205.3,532.0 L205.8,531.9 L206.3,531.9 L206.8,531.8 L207.3,531.8 L207.8,531.8 L208.3,531.7 L208.8,531.7 L209.3,531.6 L209.8,531.6 L210.3,531.6 L210.8,531.5 L211.3,531.5 L211.8,531.5 L212.3,531.4 L212.8,531.4 L213.3,531.4 L213.8,531.3 L214.3,531.3 L214.8,531.3 L215.3,531.3 L215.8,531.2 L216.3,531.2 L216.8,531.2 L217.3,531.2 L217.8,531.1 L218.3,531.1 L218.8,531.1 L219.3,531.1 L219.8,531.1 L220.3,531.0 L220.8,531.0 L221.3,531.0 L221.8,531.0 L222.3,531.0 L222.8,531.0 L223.3,531.0 L223.8,530.9 L224.3,530.9 L224.8,530.9 L225.3,530.9 L225.8,530.9 L226.3,530.9 L226.8,530.9 L227.3,530.9 L227.8,530.9 L228.3,530.9 L228.8,530.9 L229.3,530.9 L229.8,530.9 L230.3,530.9 L230.8,530.9 L231.3,530.9 L231.8,530.9 L232.3,530.9 L232.8,530.9 L233.3,530.9 L233.8,530.9 L234.3,530.9 L234.8,530.9 L235.3,531.0 L235.8,531.0 L236.3,531.0 L236.8,531.0 L237.3,531.0 L237.8,531.0 L238.3,531.0 L238.8,531.0 L239.3,531.1 L239.8,531.1 L240.3,531.1 L240.8,531.1 L241.3,531.1 L241.8,531.2 L242.3,531.2 L242.8,531.2 L243.3,531.2 L243.8,531.3 L244.3,531.3 L244.8,531.3 L245.3,531.3 L245.8,531.4 L246.3,531.4 L246.8,531.4 L247.3,531.4 L247.8,531.5 L248.3,531.5 L248.8,531.5 L249.3,531.6 L249.8,531.6 L250.3,531.6 L250.8,531.6 L251.3,531.7 L251.8,531.7 L252.3,531.7 L252.8,531.8 L253.3,531.8 L253.8,531.8 L254.3,531.9 L254.8,531.9 L255.3,532.0 L255.8,532.0 L256.3,532.0 L256.8,532.1 L257.3,532.1 L257.8,532.1 L258.3,532.2 L258.8,532.2 L259.3,532.3 L259.8,532.3 L260.3,532.3 L260.8,532.4 L261.3,532.4 L261.8,532.5 L262.3,532.5 L262.8,532.5 L263.3,532.6 L263.8,532.6 L264.3,532.7 L264.8,532.7 L265.3,532.7 L265.8,532.8 L266.3,532.8 L266.8,532.9 L267.3,532.9 L267.8,532.9 L268.3,533.0 L268.8,533.0 L269.3,533.1 L269.8,533.1 L270.3,533.1 L270.8,533.2 L271.3,533.2 L271.8,533.3 L272.3,533.3 L272.8,533.3 L273.3,533.4 L273.8,533.4 L274.3,533.4 L274.8,533.5 L275.3,533.5 L275.8,533.6 L276.3,533.6 L276.8,533.6 L277.3,533.7 L277.8,533.7 L278.3,533.7 L278.8,533.8 L279.3,533.8 L279.8,533.8 L280.3,533.8 L280.8,533.9 L281.3,533.9 L281.8,533.9 L282.3,534.0 L282.8,534.0 L283.3,534.0 L283.8,534.0 L284.3,534.1 L284.8,534.1 L285.3,534.1 L285.8,534.1 L286.3,534.1 L286.8,534.1 L287.3,534.2 L287.8,534.2 L288.3,534.2 L288.8,534.2 L289.3,534.2 L289.8,534.2 L290.3,534.2 L290.8,534.2 L291.3,534.2 L291.8,534.2 L292.3,534.2 L292.8,534.2 L293.3,534.2 L293.8,534.2 L294.3,534.2 L294.8,534.2 L295.3,534.2 L295.8,534.2 L296.3,534.2 L296.8,534.2 L297.3,534.1 L297.8,534.1 L298.3,534.1 L298.8,534.1 L299.3,534.1 L299.8,534.0 L300.3,534.0 L300.8,534.0 L301.3,533.9 L301.8,533.9 L302.3,533.8 L302.8,533.8 L303.3,533.8 L303.8,533.7 L304.3,533.7 L304.8,533.6 L305.3,533.6 L305.8,533.5 L306.3,533.4 L306.8,533.4 L307.3,533.3 L307.8,533.2 L308.3,533.2 L308.8,533.1 L309.3,533.0 L309.8,532.9 L310.3,532.9 L310.8,532.8 L311.3,532.7 L311.8,532.6 L312.3,532.5 L312.8,532.4 L313.3,532.3 L313.8,532.2 L314.3,532.1 L314.8,532.0 L315.3,531.9 L315.8,531.8 L316.3,531.7 L316.8,531.5 L317.3,531.4 L317.8,531.3 L318.3,531.2 L318.8,531.0 L319.3,530.9 L319.8,530.8 L320.3,530.6 L320.8,530.5 L321.3,530.3 L321.8,530.2 L322.3,530.0 L322.8,529.9 L323.3,529.7 L323.8,529.6 L324.3,529.4 L324.8,529.2 L325.3,529.1 L325.8,528.9 L326.3,528.7 L326.8,528.5 L327.3,528.4 L327.8,528.2 L328.3,528.0 L328.8,527.8 L329.3,527.6 L329.8,527.4 L330.3,527.2 L330.8,527.0 L331.3,526.8 L331.8,526.6 L332.3,526.4 L332.8,526.2 L333.3,526.0 L333.8,525.8 L334.3,525.5 L334.8,525.3 L335.3,525.1 L335.8,524.9 L336.3,524.6 L336.8,524.4 L337.3,524.2 L337.8,524.0 L338.3,523.7 L338.8,523.5 L339.3,523.2 L339.8,523.0 L340.3,522.8 L340.8,522.5 L341.3,522.3 L341.8,522.0 L342.3,521.8 L342.8,521.5 L343.3,521.2 L343.8,521.0 L344.3,520.7 L344.8,520.5 L345.3,520.2 L345.8,519.9 L346.3,519.7 L346.8,519.4 L347.3,519.1 L347.8,518.9 L348.3,518.6 L348.8,518.3 L349.3,518.0 L349.8,517.8 L350.3,517.5 L350.8,517.2 L351.3,516.9 L351.8,516.6 L352.3,516.3 L352.8,516.1 L353.3,515.8 L353.8,515.5 L354.3,515.2 L354.8,514.9 L355.3,514.6 L355.8,514.3 L356.3,514.0 L356.8,513.7 L357.3,513.4 L357.8,513.1 L358.3,512.8 L358.8,512.5 L359.3,512.2 L359.8,511.9 L360.3,511.6 L360.8,511.3 L361.3,511.0 L361.8,510.7 L362.3,510.4 L362.8,510.1 L363.3,509.8 L363.8,509.5 L364.3,509.2 L364.8,508.9 L365.3,508.6 L365.8,508.3 L366.3,508.0 L366.8,507.7 L367.3,507.4 L367.8,507.1 L368.3,506.8 L368.8,506.6 L369.3,506.3 L369.8,506.0 L370.3,505.7 L370.8,505.4 L371.3,505.1 L371.8,504.8 L372.3,504.6 L372.8,504.3 L373.3,504.0 L373.8,503.8 L374.3,503.5 L374.8,503.3 L375.3,503.0 L375.8,502.8 L376.3,502.5 L376.8,502.3 L377.3,502.1 L377.8,501.8 L378.3,501.6 L378.8,501.4 L379.3,501.2 L379.8,501.0 L380.3,500.8 L380.8,500.7 L381.3,500.5 L381.8,500.3 L382.3,500.2 L382.8,500.1 L383.3,499.9 L383.8,499.8 L384.3,499.7 L384.8,499.6 L385.3,499.5 L385.8,499.4 L386.3,499.4 L386.8,499.3 L387.3,499.3 L387.8,499.2 L388.3,499.2 L388.8,499.2 L389.3,499.2 L389.8,499.2 L390.3,499.3 L390.8,499.3 L391.3,499.4 L391.8,499.4 L392.3,499.5 L392.8,499.6 L393.3,499.7 L393.8,499.8 L394.3,500.0 L394.8,500.1 L395.3,500.3 L395.8,500.4 L396.3,500.6 L396.8,500.8 L397.3,501.0 L397.8,501.2 L398.3,501.5 L398.8,501.7 L399.3,502.0 L399.8,502.2 L400.3,502.5 L400.8,502.8 L401.3,503.0 L401.8,503.3 L402.3,503.6 L402.8,504.0 L403.3,504.3 L403.8,504.6 L404.3,504.9 L404.8,505.3 L405.3,505.6 L405.8,506.0 L406.3,506.3 L406.8,506.7 L407.3,507.1 L407.8,507.5 L408.3,507.8 L408.8,508.2 L409.3,508.6 L409.8,509.0 L410.3,509.4 L410.8,509.8 L411.3,510.2 L411.8,510.6 L412.3,511.0 L412.8,511.4 L413.3,511.8 L413.8,512.2 L414.3,512.6 L414.8,513.0 L415.3,513.4 L415.8,513.8 L416.3,514.2 L416.8,514.6 L417.3,515.0 L417.8,515.4 L418.3,515.8 L418.8,516.2 L419.3,516.6 L419.8,517.0 L420.3,517.4 L420.8,517.8 L421.3,518.2 L421.8,518.6 L422.3,519.0 L422.8,519.4 L423.3,519.7 L423.8,520.1 L424.3,520.5 L424.8,520.9 L425.3,521.2 L425.8,521.6 L426.3,522.0 L426.8,522.3 L427.3,522.7 L427.8,523.0 L428.3,523.4 L428.8,523.7 L429.3,524.1 L429.8,524.4 L430.3,524.7 L430.8,525.1 L431.3,525.4 L431.8,525.7 L432.3,526.1 L432.8,526.4 L433.3,526.7 L433.8,527.0 L434.3,527.3 L434.8,527.6 L435.3,527.9 L435.8,528.2 L436.3,528.5 L436.8,528.8 L437.3,529.0 L437.8,529.3 L438.3,529.4 L438.8,529.6 L439.3,529.6 L439.8,529.5 L440.3,529.3 L440.8,529.1 L441.3,528.8 L441.8,528.5 L442.3,527.9 L442.8,526.6 L443.3,524.0 L443.8,520.2 L444.3,517.1 L444.8,516.7 L445.3,519.8 L445.8,524.7 L446.3,529.2 L446.8,532.1 L447.3,533.5 L447.8,534.1 L448.3,534.4 L448.8,534.6 L449.3,534.8 L449.8,535.0 L450.3,535.2 L450.8,535.4 L451.3,535.6 L451.8,535.8 L452.3,536.0 L452.8,536.2 L453.3,536.4 L453.8,536.5 L454.3,536.7 L454.8,536.9 L455.3,537.1 L455.8,537.2 L456.3,537.4 L456.8,537.6 L457.3,537.7 L457.8,537.9 L458.3,538.0 L458.8,538.2 L459.3,538.3 L459.8,538.5 L460.3,538.6 L460.8,538.8 L461.3,538.9 L461.8,539.0 L462.3,539.2 L462.8,539.3 L463.3,539.5 L463.8,539.6 L464.3,539.7 L464.8,539.8 L465.3,540.0 L465.8,540.1 L466.3,540.2 L466.8,540.3 L467.3,540.4 L467.8,540.6 L468.3,540.7 L468.8,540.8 L469.3,540.9 L469.8,541.0 L470.3,541.1 L470.8,541.2 L471.3,541.3 L471.8,541.4 L472.3,541.5 L472.8,541.6 L473.3,541.7 L473.8,541.8 L474.3,541.9 L474.8,542.0 L475.3,542.1 L475.8,542.2 L476.3,542.3 L476.8,542.4 L477.3,542.4 L477.8,542.5 L478.3,542.6 L478.8,542.7 L479.3,542.8 L479.8,542.9 L480.3,542.9 L480.8,543.0 L481.3,543.1 L481.8,543.2 L482.3,543.2 L482.8,543.3 L483.3,543.4 L483.8,543.5 L484.3,543.5 L484.8,543.6 L485.3,543.7 L485.8,543.7 L486.3,543.8 L486.8,543.9 L487.3,543.9 L487.8,544.0 L488.3,544.1 L488.8,544.1 L489.3,544.2 L489.8,544.2 L490.3,544.3 L490.8,544.4 L491.3,544.4 L491.8,544.5 L492.3,544.5 L492.8,544.6 L493.3,544.7 L493.8,544.7 L494.3,544.8 L494.8,544.8 L495.3,544.9 L495.8,544.9 L496.3,545.0 L496.8,545.0 L497.3,545.1 L497.8,545.1 L498.3,545.2 L498.8,545.2 L499.3,545.3 L499.8,545.3 L500.3,545.4 L500.8,545.4 L501.3,545.5 L501.8,545.5 L502.3,545.6 L502.8,545.6 L503.3,545.7 L503.8,545.7 L504.3,545.7 L504.8,545.8 L505.3,545.8 L505.8,545.9 L506.3,545.9 L506.8,546.0 L507.3,546.0 L507.8,546.0 L508.3,546.1 L508.8,546.1 L509.3,546.2 L509.8,546.2 L510.3,546.2 L510.8,546.3 L511.3,546.3 L511.8,546.4 L512.3,546.4 L512.8,546.4 L513.3,546.5 L513.8,546.5 L514.3,546.6 L514.8,546.6 L515.3,546.6 L515.8,546.7 L516.3,546.7 L516.8,546.7 L517.3,546.8 L517.8,546.8 L518.3,546.8 L518.8,546.9 L519.3,546.9 L519.8,546.9 L520.3,547.0 L520.8,547.0 L521.3,547.0 L521.8,547.1 L522.3,547.1 L522.8,547.1 L523.3,547.2 L523.8,547.2 L524.3,547.2 L524.8,547.3 L525.3,547.3 L525.8,547.3 L526.3,547.4 L526.8,547.4 L527.3,547.4 L527.8,547.5 L528.3,547.5 L528.8,547.5 L529.3,547.6 L529.8,547.6 L530.3,547.6 L530.8,547.6 L531.3,547.7 L531.8,547.7 L532.3,547.7 L532.8,547.8 L533.3,547.8 L533.8,547.8 L534.3,547.9 L534.8,547.9 L535.3,547.9 L535.8,547.9 L536.3,548.0 L536.8,548.0 L537.3,548.0 L537.8,548.1 L538.3,548.1 L538.8,548.1 L539.3,548.1 L539.8,548.2 L540.3,548.2 L540.8,548.2 L541.3,548.2 L541.8,548.3 L542.3,548.3 L542.8,548.3 L543.3,548.4 L543.8,548.4 L544.3,548.4 L544.8,548.4 L545.3,548.5 L545.8,548.5 L546.3,548.5 L546.8,548.5 L547.3,548.6 L547.8,548.6 L548.3,548.6 L548.8,548.6 L549.3,548.7 L549.8,548.7 L550.3,548.7 L550.8,548.7 L551.3,548.8 L551.8,548.8 L552.3,548.8 L552.8,548.8 L553.3,548.9 L553.8,548.9 L554.3,548.9 L554.8,548.9 L555.3,549.0 L555.8,549.0 L556.3,549.0 L556.8,549.0 L557.3,549.1 L557.8,549.1 L558.3,549.1 L558.8,549.1 L559.3,549.2 L559.8,549.2 L560.3,549.2 L560.8,549.2 L561.3,549.2 L561.8,549.3 L562.3,549.3 L562.8,549.3 L563.3,549.3 L563.8,549.4 L564.3,549.4 L564.8,549.4 L565.3,549.4 L565.8,549.5 L566.3,549.5 L566.8,549.5 L567.3,549.5 L567.8,549.5 L568.3,549.6 L568.8,549.6 L569.3,549.6 L569.8,549.6 L570.3,549.7 L570.8,549.7 L571.3,549.7 L571.8,549.7 L572.3,549.7 L572.8,549.8 L573.3,549.8 L573.8,549.8 L574.3,549.8 L574.8,549.9 L575.3,549.9 L575.8,549.9 L576.3,549.9 L576.8,549.9 L577.3,550.0 L577.8,550.0 L578.3,550.0 L578.8,550.0 L579.3,550.1 L579.8,550.1 L580.3,550.1 L580.8,550.1 L581.3,550.1 L581.8,550.2 L582.3,550.2 L582.8,550.2 L583.3,550.2 L583.8,550.2 L584.3,550.3 L584.8,550.3 L585.3,550.3 L585.8,550.3 L586.3,550.4 L586.8,550.4 L587.3,550.4 L587.5,550.4" stroke="#1a6464" />
<path d="M59.8,625.5 L60.3,625.5 L60.8,625.5 L61.3,625.5 L61.8,625.5 L62.3,625.5 L62.8,625.5 L63.3,625.5 L63.8,625.4 L64.3,625.4 L64.8,625.4 L65.3,625.4 L65.8,625.4 L66.3,625.4 L66.8,625.4 L67.3,625.4 L67.8,625.4 L68.3,625.4 L68.8,625.4 L69.3,625.4 L69.8,625.3 L70.3,625.3 L70.8,625.3 L71.3,625.3 L71.8,625.3 L72.3,625.3 L72.8,625.3 L73.3,625.3 L73.8,625.3 L74.3,625.3 L74.8,625.2 L75.3,625.2 L75.8,625.2 L76.3,625.2 L76.8,625.2 L77.3,625.2 L77.8,625.2 L78.3,625.2 L78.8,625.1 L79.3,625.1 L79.8,625.1 L80.3,625.1 L80.8,625.1 L81.3,625.1 L81.8,625.1 L82.3,625.0 L82.8,625.0 L83.3,625.0 L83.8,625.0 L84.3,625.0 L84.8,625.0 L85.3,625.0 L85.8,624.9 L86.3,624.9 L86.8,624.9 L87.3,624.9 L87.8,624.9 L88.3,624.8 L88.8,624.8 L89.3,624.8 L89.8,624.8 L90.3,624.8 L90.8,624.7 L91.3,624.7 L91.8,624.7 L92.3,624.7 L92.8,624.7 L93.3,624.6 L93.8,624.6 L94.3,624.6 L94.8,624.6 L95.3,624.5 L95.8,624.5 L96.3,624.5 L96.8,624.5 L97.3,624.4 L97.8,624.4 L98.3,624.4 L98.8,624.4 L99.3,624.3 L99.8,624.3 L100.3,624.3 L100.8,624.2 L101.3,624.2 L101.8,624.2 L102.3,624.1 L102.8,624.1 L103.3,624.1 L103.8,624.0 L104.3,624.0 L104.8,624.0 L105.3,623.9 L105.8,623.9 L106.3,623.8 L106.8,623.8 L107.3,623.8 L107.8,623.7 L108.3,623.7 L108.8,623.6 L109.3,623.6 L109.8,623.6 L110.3,623.5 L110.8,623.5 L111.3,623.4 L111.8,623.4 L112.3,623.3 L112.8,623.3 L113.3,623.2 L113.8,623.2 L114.3,623.1 L114.8,623.1 L115.3,623.0 L115.8,623.0 L116.3,622.9 L116.8,622.8 L117.3,622.8 L117.8,622.7 L118.3,622.7 L118.8,622.6 L119.3,622.5 L119.8,622.5 L120.3,622.4 L120.8,622.4 L121.3,622.3 L121.8,622.2 L122.3,622.1 L122.8,622.1 L123.3,622.0 L123.8,621.9 L124.3,621.9 L124.8,621.8 L125.3,621.7 L125.8,621.6 L126.3,621.6 L126.8,621.5 L127.3,621.4 L127.8,621.3 L128.3,621.2 L128.8,621.1 L129.3,621.1 L129.8,621.0 L130.3,620.9 L130.8,620.8 L131.3,620.7 L131.8,620.6 L132.3,620.5 L132.8,620.4 L133.3,620.3 L133.8,620.2 L134.3,620.1 L134.8,620.0 L135.3,619.9 L135.8,619.8 L136.3,619.7 L136.8,619.6 L137.3,619.5 L137.8,619.4 L138.3,619.3 L138.8,619.2 L139.3,619.1 L139.8,619.0 L140.3,618.8 L140.8,618.7 L141.3,618.6 L141.8,618.5 L142.3,618.4 L142.8,618.3 L143.3,618.1 L143.8,618.0 L144.3,617.9 L144.8,617.8 L145.3,617.6 L145.8,617.5 L146.3,617.4 L146.8,617.2 L147.3,617.1 L147.8,617.0 L148.3,616.8 L148.8,616.7 L149.3,616.6 L149.8,616.4 L150.3,616.3 L150.8,616.2 L151.3,616.0 L151.8,615.9 L152.3,615.7 L152.8,615.6 L153.3,615.4 L153.8,615.3 L154.3,615.1 L154.8,615.0 L155.3,614.8 L155.8,614.7 L156.3,614.5 L156.8,614.4 L157.3,614.2 L157.8,614.1 L158.3,613.9 L158.8,613.8 L159.3,613.6 L159.8,613.5 L160.3,613.3 L160.8,613.1 L161.3,613.0 L161.8,612.8 L162.3,612.7 L162.8,612.5 L163.3,612.3 L163.8,612.2 L164.3,612.0 L164.8,611.8 L165.3,611.7 L165.8,611.5 L166.3,611.3 L166.8,611.2 L167.3,611.0 L167.8,610.9 L168.3,610.7 L168.8,610.5 L169.3,610.4 L169.8,610.2 L170.3,610.0 L170.8,609.9 L171.3,609.7 L171.8,609.5 L172.3,609.4 L172.8,609.2 L173.3,609.0 L173.8,608.9 L174.3,608.7 L174.8,608.5 L175.3,608.4 L175.8,608.2 L176.3,608.0 L176.8,607.9 L177.3,607.7 L177.8,607.5 L178.3,607.4 L178.8,607.2 L179.3,607.0 L179.8,606.9 L180.3,606.7 L180.8,606.6 L181.3,606.4 L181.8,606.2 L182.3,606.1 L182.8,605.9 L183.3,605.8 L183.8,605.6 L184.3,605.5 L184.8,605.3 L185.3,605.2 L185.8,605.0 L186.3,604.9 L186.8,604.7 L187.3,604.6 L187.8,604.4 L188.3,604.3 L188.8,604.2 L189.3,604.0 L189.8,603.9 L190.3,603.8 L190.8,603.6 L191.3,603.5 L191.8,603.4 L192.3,603.2 L192.8,603.1 L193.3,603.0 L193.8,602.9 L194.3,602.7 L194.8,602.6 L195.3,602.5 L195.8,602.4 L196.3,602.3 L196.8,602.2 L197.3,602.0 L197.8,601.9 L198.3,601.8 L198.8,601.7 L199.3,601.6 L199.8,601.5 L200.3,601.4 L200.8,601.3 L201.3,601.3 L201.8,601.2 L202.3,601.1 L202.8,601.0 L203.3,600.9 L203.8,600.8 L204.3,600.8 L204.8,600.7 L205.3,600.6 L205.8,600.6 L206.3,600.5 L206.8,600.4 L207.3,600.4 L207.8,600.3 L208.3,600.3 L208.8,600.2 L209.3,600.2 L209.8,600.1 L210.3,600.1 L210.8,600.0 L211.3,600.0 L211.8,600.0 L212.3,599.9 L212.8,599.9 L213.3,599.9 L213.8,599.9 L214.3,599.8 L214.8,599.8 L215.3,599.8 L215.8,599.8 L216.3,599.8 L216.8,599.8 L217.3,599.8 L217.8,599.8 L218.3,599.8 L218.8,599.8 L219.3,599.8 L219.8,599.8 L220.3,599.8 L220.8,599.9 L221.3,599.9 L221.8,599.9 L222.3,599.9 L222.8,600.0 L223.3,600.0 L223.8,600.0 L224.3,600.1 L224.8,600.1 L225.3,600.2 L225.8,600.2 L226.3,600.2 L226.8,600.3 L227.3,600.4 L227.8,600.4 L228.3,600.5 L228.8,600.5 L229.3,600.6 L229.8,600.7 L230.3,600.7 L230.8,600.8 L231.3,600.9 L231.8,600.9 L232.3,601.0 L232.8,601.1 L233.3,601.2 L233.8,601.3 L234.3,601.4 L234.8,601.5 L235.3,601.5 L235.8,601.6 L236.3,601.7 L236.8,601.8 L237.3,601.9 L237.8,602.0 L238.3,602.1 L238.8,602.2 L239.3,602.4 L239.8,602.5 L240.3,602.6 L240.8,602.7 L241.3,602.8 L241.8,602.9 L242.3,603.0 L242.8,603.2 L243.3,603.3 L243.8,603.4 L244.3,603.5 L244.8,603.6 L245.3,603.8 L245.8,603.9 L246.3,604.0 L246.8,604.2 L247.3,604.3 L247.8,604.4 L248.3,604.6 L248.8,604.7 L249.3,604.8 L249.8,605.0 L250.3,605.1 L250.8,605.2 L251.3,605.4 L251.8,605.5 L252.3,605.6 L252.8,605.8 L253.3,605.9 L253.8,606.1 L254.3,606.2 L254.8,606.3 L255.3,606.5 L255.8,606.6 L256.3,606.8 L256.8,606.9 L257.3,607.0 L257.8,607.2 L258.3,607.3 L258.8,607.5 L259.3,607.6 L259.8,607.8 L260.3,607.9 L260.8,608.0 L261.3,608.2 L261.8,608.3 L262.3,608.5 L262.8,608.6 L263.3,608.7 L263.8,608.9 L264.3,609.0 L264.8,609.1 L265.3,609.3 L265.8,609.4 L266.3,609.5 L266.8,609.7 L267.3,609.8 L267.8,609.9 L268.3,610.1 L268.8,610.2 L269.3,610.3 L269.8,610.4 L270.3,610.6 L270.8,610.7 L271.3,610.8 L271.8,610.9 L272.3,611.1 L272.8,611.2 L273.3,611.3 L273.8,611.4 L274.3,611.5 L274.8,611.6 L275.3,611.7 L275.8,611.8 L276.3,612.0 L276.8,612.1 L277.3,612.2 L277.8,612.3 L278.3,612.4 L278.8,612.5 L279.3,612.5 L279.8,612.6 L280.3,612.7 L280.8,612.8 L281.3,612.9 L281.8,613.0 L282.3,613.1 L282.8,613.1 L283.3,613.2 L283.8,613.3 L284.3,613.4 L284.8,613.4 L285.3,613.5 L285.8,613.6 L286.3,613.6 L286.8,613.7 L287.3,613.7 L287.8,613.8 L288.3,613.8 L288.8,613.9 L289.3,613.9 L289.8,614.0 L290.3,614.0 L290.8,614.1 L291.3,614.1 L291.8,614.1 L292.3,614.2 L292.8,614.2 L293.3,614.2 L293.8,614.2 L294.3,614.2 L294.8,614.3 L295.3,614.3 L295.8,614.3 L296.3,614.3 L296.8,614.3 L297.3,614.3 L297.8,614.3 L298.3,614.3 L298.8,614.3 L299.3,614.3 L299.8,614.2 L300.3,614.2 L300.8,614.2 L301.3,614.2 L301.8,614.2 L302.3,614.1 L302.8,614.1 L303.3,614.1 L303.8,614.0 L304.3,614.0 L304.8,613.9 L305.3,613.9 L305.8,613.8 L306.3,613.8 L306.8,613.7 L307.3,613.7 L307.8,613.6 L308.3,613.6 L308.8,613.5 L309.3,613.4 L309.8,613.4 L310.3,613.3 L310.8,613.2 L311.3,613.1 L311.8,613.0 L312.3,613.0 L312.8,612.9 L313.3,612.8 L313.8,612.7 L314.3,612.6 L314.8,612.5 L315.3,612.4 L315.8,612.3 L316.3,612.2 L316.8,612.1 L317.3,612.0 L317.8,611.9 L318.3,611.8 L318.8,611.7 L319.3,611.6 L319.8,611.4 L320.3,611.3 L320.8,611.2 L321.3,611.1 L321.8,610.9 L322.3,610.8 L322.8,610.7 L323.3,610.6 L323.8,610.4 L324.3,610.3 L324.8,610.2 L325.3,610.0 L325.8,609.9 L326.3,609.7 L326.8,609.6 L327.3,609.5 L327.8,609.3 L328.3,609.2 L328.8,609.0 L329.3,608.9 L329.8,608.7 L330.3,608.6 L330.8,608.4 L331.3,608.2 L331.8,608.1 L332.3,607.9 L332.8,607.8 L333.3,607.6 L333.8,607.4 L334.3,607.3 L334.8,607.1 L335.3,606.9 L335.8,606.7 L336.3,606.6 L336.8,606.4 L337.3,606.2 L337.8,606.0 L338.3,605.8 L338.8,605.6 L339.3,605.5 L339.8,605.3 L340.3,605.1 L340.8,604.9 L341.3,604.7 L341.8,604.5 L342.3,604.3 L342.8,604.1 L343.3,603.9 L343.8,603.6 L344.3,603.4 L344.8,603.2 L345.3,603.0 L345.8,602.8 L346.3,602.5 L346.8,602.3 L347.3,602.1 L347.8,601.8 L348.3,601.6 L348.8,601.3 L349.3,601.1 L349.8,600.8 L350.3,600.6 L350.8,600.3 L351.3,600.1 L351.8,599.8 L352.3,599.5 L352.8,599.2 L353.3,598.9 L353.8,598.6 L354.3,598.4 L354.8,598.0 L355.3,597.7 L355.8,597.4 L356.3,597.1 L356.8,596.8 L357.3,596.5 L357.8,596.1 L358.3,595.8 L358.8,595.4 L359.3,595.1 L359.8,594.7 L360.3,594.4 L360.8,594.0 L361.3,593.6 L361.8,593.2 L362.3,592.8 L362.8,592.4 L363.3,592.0 L363.8,591.6 L364.3,591.2 L364.8,590.8 L365.3,590.3 L365.8,589.9 L366.3,589.4 L366.8,589.0 L367.3,588.5 L367.8,588.0 L368.3,587.6 L368.8,587.1 L369.3,586.6 L369.8,586.1 L370.3,585.6 L370.8,585.1 L371.3,584.6 L371.8,584.1 L372.3,583.6 L372.8,583.0 L373.3,582.5 L373.8,582.0 L374.3,581.4 L374.8,580.9 L375.3,580.3 L375.8,579.8 L376.3,579.2 L376.8,578.7 L377.3,578.1 L377.8,577.6 L378.3,577.0 L378.8,576.5 L379.3,575.9 L379.8,575.4 L380.3,574.8 L380.8,574.3 L381.3,573.7 L381.8,573.2 L382.3,572.6 L382.8,572.1 L383.3,571.6 L383.8,571.1 L384.3,570.6 L384.8,570.1 L385.3,569.6 L385.8,569.2 L386.3,568.7 L386.8,568.3 L387.3,567.9 L387.8,567.5 L388.3,567.1 L388.8,566.7 L389.3,566.4 L389.8,566.1 L390.3,565.8 L390.8,565.5 L391.3,565.2 L391.8,565.0 L392.3,564.8 L392.8,564.6 L393.3,564.5 L393.8,564.4 L394.3,564.3 L394.8,564.2 L395.3,564.2 L395.8,564.2 L396.3,564.2 L396.8,564.3 L397.3,564.4 L397.8,564.5 L398.3,564.6 L398.8,564.8 L399.3,565.0 L399.8,565.2 L400.3,565.5 L400.8,565.8 L401.3,566.1 L401.8,566.4 L402.3,566.8 L402.8,567.2 L403.3,567.6 L403.8,568.0 L404.3,568.4 L404.8,568.9 L405.3,569.4 L405.8,569.9 L406.3,570.4 L406.8,571.0 L407.3,571.5 L407.8,572.1 L408.3,572.7 L408.8,573.3 L409.3,573.9 L409.8,574.5 L410.3,575.1 L410.8,575.8 L411.3,576.4 L411.8,577.0 L412.3,577.7 L412.8,578.3 L413.3,579.0 L413.8,579.7 L414.3,580.3 L414.8,581.0 L415.3,581.6 L415.8,582.3 L416.3,583.0 L416.8,583.6 L417.3,584.3 L417.8,584.9 L418.3,585.6 L418.8,586.2 L419.3,586.9 L419.8,587.5 L420.3,588.1 L420.8,588.8 L421.3,589.4 L421.8,590.0 L422.3,590.6 L422.8,591.2 L423.3,591.8 L423.8,592.4 L424.3,593.0 L424.8,593.6 L425.3,594.1 L425.8,594.7 L426.3,595.2 L426.8,595.8 L427.3,596.3 L427.8,596.9 L428.3,597.4 L428.8,597.9 L429.3,598.4 L429.8,598.9 L430.3,599.4 L430.8,599.9 L431.3,600.4 L431.8,600.8 L432.3,601.3 L432.8,601.7 L433.3,602.2 L433.8,602.6 L434.3,603.0 L434.8,603.5 L435.3,603.9 L435.8,604.3 L436.3,604.7 L436.8,605.1 L437.3,605.4 L437.8,605.8 L438.3,606.2 L438.8,606.5 L439.3,606.9 L439.8,607.2 L440.3,607.6 L440.8,607.9 L441.3,608.2 L441.8,608.6 L442.3,608.9 L442.8,609.2 L443.3,609.5 L443.8,609.8 L444.3,610.0 L444.8,610.3 L445.3,610.4 L445.8,610.5 L446.3,610.5 L446.8,610.4 L447.3,610.3 L447.8,610.4 L448.3,610.7 L448.8,611.1 L449.3,611.7 L449.8,612.2 L450.3,612.7 L450.8,613.1 L451.3,613.4 L451.8,613.6 L452.3,613.8 L452.8,614.0 L453.3,614.2 L453.8,614.4 L454.3,614.6 L454.8,614.8 L455.3,614.9 L455.8,615.1 L456.3,615.3 L456.8,615.4 L457.3,615.6 L457.8,615.7 L458.3,615.9 L458.8,616.0 L459.3,616.2 L459.8,616.3 L460.3,616.5 L460.8,616.6 L461.3,616.7 L461.8,616.8 L462.3,617.0 L462.8,617.1 L463.3,617.2 L463.8,617.3 L464.3,617.4 L464.8,617.6 L465.3,617.7 L465.8,617.8 L466.3,617.9 L466.8,618.0 L467.3,618.1 L467.8,618.2 L468.3,618.3 L468.8,618.4 L469.3,618.5 L469.8,618.5 L470.3,618.6 L470.8,618.7 L471.3,618.8 L471.8,618.9 L472.3,619.0 L472.8,619.0 L473.3,619.1 L473.8,619.2 L474.3,619.3 L474.8,619.3 L475.3,619.4 L475.8,619.5 L476.3,619.6 L476.8,619.6 L477.3,619.7 L477.8,619.8 L478.3,619.8 L478.8,619.9 L479.3,619.9 L479.8,620.0 L480.3,620.1 L480.8,620.1 L481.3,620.2 L481.8,620.2 L482.3,620.3 L482.8,620.4 L483.3,620.4 L483.8,620.5 L484.3,620.5 L484.8,620.6 L485.3,620.6 L485.8,620.7 L486.3,620.7 L486.8,620.8 L487.3,620.8 L487.8,620.9 L488.3,620.9 L488.8,620.9 L489.3,621.0 L489.8,621.0 L490.3,621.1 L490.8,621.1 L491.3,621.2 L491.8,621.2 L492.3,621.2 L492.8,621.3 L493.3,621.3 L493.8,621.4 L494.3,621.4 L494.8,621.4 L495.3,621.5 L495.8,621.5 L496.3,621.5 L496.8,621.6 L497.3,621.6 L497.8,621.7 L498.3,621.7 L498.8,621.7 L499.3,621.8 L499.8,621.8 L500.3,621.8 L500.8,621.9 L501.3,621.9 L501.8,621.9 L502.3,622.0 L502.8,622.0 L503.3,622.0 L503.8,622.0 L504.3,622.1 L504.8,622.1 L505.3,622.1 L505.8,622.2 L506.3,622.2 L506.8,622.2 L507.3,622.2 L507.8,622.3 L508.3,622.3 L508.8,622.3 L509.3,622.4 L509.8,622.4 L510.3,622.4 L510.8,622.4 L511.3,622.5 L511.8,622.5 L512.3,622.5 L512.8,622.5 L513.3,622.6 L513.8,622.6 L514.3,622.6 L514.8,622.6 L515.3,622.7 L515.8,622.7 L516.3,622.7 L516.8,622.7 L517.3,622.7 L517.8,622.8 L518.3,622.8 L518.8,622.8 L519.3,622.8 L519.8,622.9 L520.3,622.9 L520.8,622.9 L521.3,622.9 L521.8,622.9 L522.3,623.0 L522.8,623.0 L523.3,623.0 L523.8,623.0 L524.3,623.0 L524.8,623.1 L525.3,623.1 L525.8,623.1 L526.3,623.1 L526.8,623.1 L527.3,623.2 L527.8,623.2 L528.3,623.2 L528.8,623.2 L529.3,623.2 L529.8,623.3 L530.3,623.3 L530.8,623.3 L531.3,623.3 L531.8,623.3 L532.3,623.3 L532.8,623.4 L533.3,623.4 L533.8,623.4 L534.3,623.4 L534.8,623.4 L535.3,623.4 L535.8,623.5 L536.3,623.5 L536.8,623.5 L537.3,623.5 L537.8,623.5 L538.3,623.5 L538.8,623.6 L539.3,623.6 L539.8,623.6 L540.3,623.6 L540.8,623.6 L541.3,623.6 L541.8,623.6 L542.3,623.7 L542.8,623.7 L543.3,623.7 L543.8,623.7 L544.3,623.7 L544.8,623.7 L545.3,623.7 L545.8,623.8 L546.3,623.8 L546.8,623.8 L547.3,623.8 L547.8,623.8 L548.3,623.8 L548.8,623.8 L549.3,623.9 L549.8,623.9 L550.3,623.9 L550.8,623.9 L551.3,623.9 L551.8,623.9 L552.3,623.9 L552.8,623.9 L553.3,624.0 L553.8,624.0 L554.3,624.0 L554.8,624.0 L555.3,624.0 L555.8,624.0 L556.3,624.0 L556.8,624.0 L557.3,624.1 L557.8,624.1 L558.3,624.1 L558.8,624.1 L559.3,624.1 L559.8,624.1 L560.3,624.1 L560.8,624.1 L561.3,624.1 L561.8,624.2 L562.3,624.2 L562.8,624.2 L563.3,624.2 L563.8,624.2 L564.3,624.2 L564.8,624.2 L565.3,624.2 L565.8,624.2 L566.3,624.3 L566.8,624.3 L567.3,624.3 L567.8,624.3 L568.3,624.3 L568.8,624.3 L569.3,624.3 L569.8,624.3 L570.3,624.3 L570.8,624.4 L571.3,624.4 L571.8,624.4 L572.3,624.4 L572.8,624.4 L573.3,624.4 L573.8,624.4 L574.3,624.4 L574.8,624.4 L575.3,624.4 L575.8,624.5 L576.3,624.5 L576.8,624.5 L577.3,624.5 L577.8,624.5 L578.3,624.5 L578.8,624.5 L579.3,624.5 L579.8,624.5 L580.3,624.5 L580.8,624.6 L581.3,624.6 L581.8,624.6 L582.3,624.6 L582.8,624.6 L583.3,624.6 L583.8,624.6 L584.3,624.6 L584.8,624.6 L585.3,624.6 L585.8,624.6 L586.3,624.7 L586.8,624.7 L587.3,624.7 L587.5,624.7" stroke="#32c8cc" />
</g>
<g font-size="36" fill="#000" opacity="0.999">
<path d="M763 0H583V1098C540 1059 483 1018 413 979C343 940 280 910 225 890V1057C326 1102 414 1157 489 1221C564 1286 617 1349 648 1409H763Z" transform="translate(38.50,742.20) scale(0.017578,-0.017578)"/>
<text x="58.52" y="742.20">0</text>
<path d="M763 0H583V1098C540 1059 483 1018 413 979C343 940 280 910 225 890V1057C326 1102 414 1157 489 1221C564 1286 617 1349 648 1409H763Z" transform="translate(170.40,742.20) scale(0.017578,-0.017578)"/>
<text x="190.42" y="742.20">5</text>
<text x="301.50" y="742.20">20</text>
<text x="433.70" y="742.20">25</text>
<text x="566.50" y="742.20">30</text>
<text x="253.3" y="790.8">2θ (deg.)</text>
<text transform="translate(27,512.9) rotate(-90)" textLength="267.46" lengthAdjust="spacing">Intensity (arb. u.)</text>
<g transform="translate(198.4,119.0) rotate(-90)"><text x="0.00" y="0.00">(</text>
<path d="M763 0H583V1098C540 1059 483 1018 413 979C343 940 280 910 225 890V1057C326 1102 414 1157 489 1221C564 1286 617 1349 648 1409H763Z" transform="translate(10.69,0.00) scale(0.017578,-0.017578)"/>
<path d="M763 0H583V1098C540 1059 483 1018 413 979C343 940 280 910 225 890V1057C326 1102 414 1157 489 1221C564 1286 617 1349 648 1409H763Z" transform="translate(30.71,0.00) scale(0.017578,-0.017578)"/>
<text x="50.73" y="0.00">0</text>
<text x="72.05" y="0.00">)</text></g>
<rect x="167.3" y="70.8" width="2" height="14.7"/>
<g transform="translate(250.0,119.0) rotate(-90)"><text x="0.00" y="0.00">(</text>
<path d="M763 0H583V1098C540 1059 483 1018 413 979C343 940 280 910 225 890V1057C326 1102 414 1157 489 1221C564 1286 617 1349 648 1409H763Z" transform="translate(10.69,0.00) scale(0.017578,-0.017578)"/>
<path d="M763 0H583V1098C540 1059 483 1018 413 979C343 940 280 910 225 890V1057C326 1102 414 1157 489 1221C564 1286 617 1349 648 1409H763Z" transform="translate(30.71,0.00) scale(0.017578,-0.017578)"/>
<text x="50.73" y="0.00">0</text>
<text x="72.05" y="0.00">)</text></g>
<g transform="translate(403.3,82.0) rotate(-90)"><text x="0.00" y="0.00">(</text>
<text x="10.69" y="0.00">200</text>
<text x="72.05" y="0.00">)</text></g>
<g font-style="italic">
<text x="476.8" y="131.2">F</text><text x="498.2" y="131.2">.</text>
<text x="517.45" y="131.2" textLength="119.38" lengthAdjust="spacing">crenata</text>
<text x="476.45" y="327.5">P</text><text x="500.4" y="327.5">.</text>
<text x="518.75" y="327.5" textLength="168.11" lengthAdjust="spacing">tomentosa</text>
<text x="477.7" y="519.9">Z</text><text x="497.9" y="519.9">.</text>
<text x="517.95" y="519.9" textLength="110.25" lengthAdjust="spacing">serrata</text>
</g>
<text x="596.85" y="173.05">(a)</text>
<text x="596.85" y="243.35">(b)</text>
<text x="596.85" y="369.95">(c)</text>
<text x="596.85" y="439.9">(d)</text>
<text x="596.85" y="562.2">(e)</text>
<text x="596.85" y="633.5">(f)</text>
</g>
</svg>
</body></html>
